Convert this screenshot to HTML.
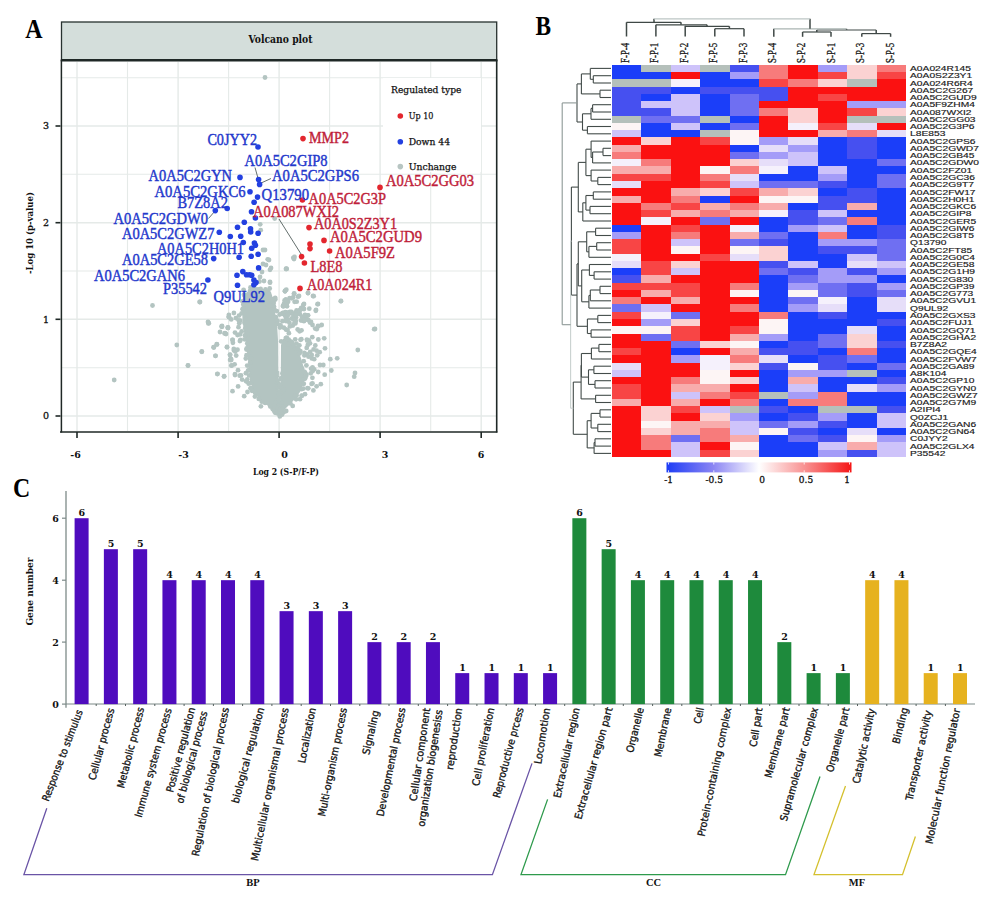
<!DOCTYPE html>
<html><head><meta charset="utf-8"><title>Figure</title>
<style>html,body{margin:0;padding:0;background:#fff;}body{width:1000px;height:900px;overflow:hidden;}svg{display:block;}</style>
</head><body>
<svg width="1000" height="900" viewBox="0 0 1000 900">
<rect width="1000" height="900" fill="#ffffff"/>
<text transform="translate(25.2,37.9) scale(0.87,1)" font-family="'Liberation Serif', serif" font-weight="bold" font-size="27.5">A</text>
<rect x="61.5" y="22" width="435.2" height="38" fill="#d4dedb" stroke="#27312f" stroke-width="1.3"/>
<text x="280.5" y="42.8" font-family="'DejaVu Serif', serif" font-weight="bold" font-size="10.5" text-anchor="middle" textLength="64" lengthAdjust="spacingAndGlyphs" fill="#111">Volcano plot</text>
<rect x="60.5" y="61" width="436.2" height="371" fill="#ffffff"/>
<line x1="77.0" y1="62" x2="77.0" y2="431" stroke="#e5eae8" stroke-width="1.4"/>
<line x1="127.5" y1="62" x2="127.5" y2="431" stroke="#e5eae8" stroke-width="1.1"/>
<line x1="178.1" y1="62" x2="178.1" y2="431" stroke="#e5eae8" stroke-width="1.4"/>
<line x1="228.6" y1="62" x2="228.6" y2="431" stroke="#e5eae8" stroke-width="1.1"/>
<line x1="279.1" y1="62" x2="279.1" y2="431" stroke="#e5eae8" stroke-width="1.4"/>
<line x1="329.6" y1="62" x2="329.6" y2="431" stroke="#e5eae8" stroke-width="1.1"/>
<line x1="380.1" y1="62" x2="380.1" y2="431" stroke="#e5eae8" stroke-width="1.4"/>
<line x1="430.7" y1="62" x2="430.7" y2="431" stroke="#e5eae8" stroke-width="1.1"/>
<line x1="481.2" y1="62" x2="481.2" y2="431" stroke="#e5eae8" stroke-width="1.4"/>
<line x1="61" y1="416.0" x2="496" y2="416.0" stroke="#e5eae8" stroke-width="1.4"/>
<line x1="61" y1="367.7" x2="496" y2="367.7" stroke="#e5eae8" stroke-width="1.1"/>
<line x1="61" y1="319.3" x2="496" y2="319.3" stroke="#e5eae8" stroke-width="1.4"/>
<line x1="61" y1="271.0" x2="496" y2="271.0" stroke="#e5eae8" stroke-width="1.1"/>
<line x1="61" y1="222.7" x2="496" y2="222.7" stroke="#e5eae8" stroke-width="1.4"/>
<line x1="61" y1="174.3" x2="496" y2="174.3" stroke="#e5eae8" stroke-width="1.1"/>
<line x1="61" y1="126.0" x2="496" y2="126.0" stroke="#e5eae8" stroke-width="1.4"/>
<line x1="61" y1="77.7" x2="496" y2="77.7" stroke="#e5eae8" stroke-width="1.1"/>

<g fill="#b3c4c1">
<polygon points="279,415 271,408 261,401 254,392 250,381 249,368 247.5,355 246,345 244,332 242.5,320 242,308 243,298 247,292 255,289 265,289 271,292 273.5,302 275.5,315 277.3,328 278,340 278.3,373 278.8,396"/>
<polygon points="280.6,396 280.8,373 281,345 283,339 289,338 294,341 297,348 301,358 304.5,370 304,383 300,392 294,400 287,407 280,415"/>
<circle cx="279.8" cy="416.4" r="2.4"/>
<circle cx="275.3" cy="412.8" r="2.4"/>
<circle cx="274.4" cy="411.4" r="2.4"/>
<circle cx="272.8" cy="409.3" r="2.4"/>
<circle cx="270.3" cy="406.5" r="2.4"/>
<circle cx="265.1" cy="402.9" r="2.4"/>
<circle cx="260.9" cy="406.3" r="2.4"/>
<circle cx="264.3" cy="401.6" r="2.4"/>
<circle cx="261.8" cy="401.7" r="2.4"/>
<circle cx="258.8" cy="398.9" r="2.4"/>
<circle cx="254.9" cy="396.6" r="2.4"/>
<circle cx="256.7" cy="394.5" r="2.4"/>
<circle cx="252.0" cy="390.8" r="2.4"/>
<circle cx="251.0" cy="388.1" r="2.4"/>
<circle cx="250.8" cy="383.1" r="2.4"/>
<circle cx="247.0" cy="381.6" r="2.4"/>
<circle cx="248.7" cy="383.7" r="2.4"/>
<circle cx="247.3" cy="379.5" r="2.4"/>
<circle cx="249.1" cy="375.4" r="2.4"/>
<circle cx="249.5" cy="369.3" r="2.4"/>
<circle cx="248.0" cy="370.7" r="2.4"/>
<circle cx="247.2" cy="365.6" r="2.4"/>
<circle cx="250.3" cy="362.6" r="2.4"/>
<circle cx="250.7" cy="362.1" r="2.4"/>
<circle cx="251.1" cy="358.4" r="2.4"/>
<circle cx="245.8" cy="358.5" r="2.4"/>
<circle cx="246.5" cy="355.2" r="2.4"/>
<circle cx="249.7" cy="352.3" r="2.4"/>
<circle cx="246.5" cy="349.6" r="2.4"/>
<circle cx="247.3" cy="343.6" r="2.4"/>
<circle cx="247.7" cy="338.9" r="2.4"/>
<circle cx="244.5" cy="339.3" r="2.4"/>
<circle cx="247.8" cy="333.4" r="2.4"/>
<circle cx="244.9" cy="335.3" r="2.4"/>
<circle cx="241.7" cy="331.5" r="2.4"/>
<circle cx="245.3" cy="328.3" r="2.4"/>
<circle cx="239.3" cy="323.2" r="2.4"/>
<circle cx="240.3" cy="320.7" r="2.4"/>
<circle cx="245.9" cy="319.2" r="2.4"/>
<circle cx="244.4" cy="312.5" r="2.4"/>
<circle cx="241.6" cy="313.3" r="2.4"/>
<circle cx="242.6" cy="309.3" r="2.4"/>
<circle cx="242.9" cy="308.6" r="2.4"/>
<circle cx="243.3" cy="304.5" r="2.4"/>
<circle cx="242.4" cy="301.3" r="2.4"/>
<circle cx="244.0" cy="294.7" r="2.4"/>
<circle cx="244.6" cy="295.6" r="2.4"/>
<circle cx="250.5" cy="287.5" r="2.4"/>
<circle cx="250.2" cy="290.6" r="2.4"/>
<circle cx="251.9" cy="291.0" r="2.4"/>
<circle cx="258.0" cy="289.3" r="2.4"/>
<circle cx="260.6" cy="288.8" r="2.4"/>
<circle cx="265.5" cy="289.4" r="2.4"/>
<circle cx="269.7" cy="288.5" r="2.4"/>
<circle cx="268.1" cy="291.7" r="2.4"/>
<circle cx="268.8" cy="294.0" r="2.4"/>
<circle cx="272.6" cy="299.5" r="2.4"/>
<circle cx="275.3" cy="299.5" r="2.4"/>
<circle cx="273.7" cy="302.9" r="2.4"/>
<circle cx="273.9" cy="306.3" r="2.4"/>
<circle cx="274.1" cy="308.6" r="2.4"/>
<circle cx="276.8" cy="311.1" r="2.4"/>
<circle cx="279.7" cy="314.5" r="2.4"/>
<circle cx="275.9" cy="317.1" r="2.4"/>
<circle cx="276.6" cy="320.4" r="2.4"/>
<circle cx="277.6" cy="320.9" r="2.4"/>
<circle cx="277.0" cy="323.8" r="2.4"/>
<circle cx="279.7" cy="325.5" r="2.4"/>
<circle cx="277.3" cy="375.3" r="2.4"/>
<circle cx="276.9" cy="380.8" r="2.4"/>
<circle cx="277.1" cy="382.6" r="2.4"/>
<circle cx="278.4" cy="383.3" r="2.4"/>
<circle cx="280.7" cy="387.9" r="2.4"/>
<circle cx="280.6" cy="392.2" r="2.4"/>
<circle cx="277.9" cy="391.7" r="2.4"/>
<circle cx="279.0" cy="394.9" r="2.4"/>
<circle cx="277.6" cy="397.0" r="2.4"/>
<circle cx="275.7" cy="402.6" r="2.4"/>
<circle cx="279.2" cy="404.9" r="2.4"/>
<circle cx="279.0" cy="407.2" r="2.4"/>
<circle cx="278.1" cy="408.0" r="2.4"/>
<circle cx="277.8" cy="413.5" r="2.4"/>
<circle cx="280.5" cy="412.9" r="2.4"/>
<circle cx="278.5" cy="393.3" r="2.4"/>
<circle cx="282.5" cy="391.8" r="2.4"/>
<circle cx="283.7" cy="389.8" r="2.4"/>
<circle cx="278.0" cy="387.3" r="2.4"/>
<circle cx="279.8" cy="384.7" r="2.4"/>
<circle cx="280.9" cy="379.2" r="2.4"/>
<circle cx="280.8" cy="378.5" r="2.4"/>
<circle cx="278.6" cy="373.5" r="2.4"/>
<circle cx="286.8" cy="337.7" r="2.4"/>
<circle cx="285.8" cy="338.1" r="2.4"/>
<circle cx="288.7" cy="339.7" r="2.4"/>
<circle cx="295.2" cy="339.3" r="2.4"/>
<circle cx="296.5" cy="343.6" r="2.4"/>
<circle cx="299.4" cy="345.3" r="2.4"/>
<circle cx="298.5" cy="349.6" r="2.4"/>
<circle cx="298.1" cy="351.3" r="2.4"/>
<circle cx="300.4" cy="351.1" r="2.4"/>
<circle cx="299.6" cy="353.4" r="2.4"/>
<circle cx="304.4" cy="355.4" r="2.4"/>
<circle cx="303.7" cy="361.2" r="2.4"/>
<circle cx="306.4" cy="365.3" r="2.4"/>
<circle cx="301.9" cy="368.3" r="2.4"/>
<circle cx="305.0" cy="372.3" r="2.4"/>
<circle cx="306.5" cy="374.7" r="2.4"/>
<circle cx="305.8" cy="376.5" r="2.4"/>
<circle cx="303.5" cy="379.4" r="2.4"/>
<circle cx="305.1" cy="378.6" r="2.4"/>
<circle cx="303.8" cy="383.8" r="2.4"/>
<circle cx="301.5" cy="389.2" r="2.4"/>
<circle cx="303.4" cy="388.6" r="2.4"/>
<circle cx="301.7" cy="395.8" r="2.4"/>
<circle cx="296.6" cy="395.5" r="2.4"/>
<circle cx="295.2" cy="395.8" r="2.4"/>
<circle cx="296.1" cy="399.3" r="2.4"/>
<circle cx="292.7" cy="405.9" r="2.4"/>
<circle cx="290.4" cy="403.4" r="2.4"/>
<circle cx="282.7" cy="406.4" r="2.4"/>
<circle cx="286.2" cy="411.0" r="2.4"/>
<circle cx="283.9" cy="412.1" r="2.4"/>
<circle cx="282.1" cy="414.5" r="2.4"/>
<circle cx="280.1" cy="412.8" r="2.4"/>
<circle cx="280.8" cy="412.3" r="2.4"/>
<circle cx="280.2" cy="409.8" r="2.4"/>
<circle cx="279.3" cy="404.5" r="2.4"/>
<circle cx="281.1" cy="402.5" r="2.4"/>
<circle cx="278.7" cy="400.0" r="2.4"/>
<circle cx="279.0" cy="397.7" r="2.4"/>
<circle cx="267.2" cy="300.2" r="2.4"/>
<circle cx="258.1" cy="292.4" r="2.4"/>
<circle cx="253.7" cy="287.4" r="2.4"/>
<circle cx="272.1" cy="301.1" r="2.4"/>
<circle cx="254.5" cy="289.5" r="2.4"/>
<circle cx="254.8" cy="295.4" r="2.4"/>
<circle cx="250.7" cy="295.0" r="2.4"/>
<circle cx="275.2" cy="297.8" r="2.4"/>
<circle cx="255.3" cy="292.6" r="2.4"/>
<circle cx="260.2" cy="296.6" r="2.4"/>
<circle cx="252.0" cy="296.6" r="2.4"/>
<circle cx="248.7" cy="293.8" r="2.4"/>
<circle cx="255.1" cy="289.3" r="2.4"/>
<circle cx="263.6" cy="297.3" r="2.4"/>
<circle cx="268.5" cy="300.8" r="2.4"/>
<circle cx="267.5" cy="306.7" r="2.4"/>
<circle cx="257.7" cy="291.8" r="2.4"/>
<circle cx="267.7" cy="300.4" r="2.4"/>
<circle cx="272.8" cy="299.9" r="2.4"/>
<circle cx="268.0" cy="304.9" r="2.4"/>
<circle cx="250.2" cy="297.1" r="2.4"/>
<circle cx="270.1" cy="305.3" r="2.4"/>
<circle cx="266.5" cy="301.7" r="2.4"/>
<circle cx="250.0" cy="292.7" r="2.4"/>
<circle cx="262.8" cy="299.9" r="2.4"/>
<circle cx="306.9" cy="339.6" r="2.4"/>
<circle cx="301.5" cy="330.3" r="2.4"/>
<circle cx="283.0" cy="313.0" r="2.4"/>
<circle cx="311.8" cy="358.4" r="2.4"/>
<circle cx="301.1" cy="320.5" r="2.4"/>
<circle cx="300.5" cy="339.8" r="2.4"/>
<circle cx="286.2" cy="312.3" r="2.4"/>
<circle cx="282.4" cy="313.2" r="2.4"/>
<circle cx="308.8" cy="340.3" r="2.4"/>
<circle cx="280.6" cy="325.4" r="2.4"/>
<circle cx="288.9" cy="333.2" r="2.4"/>
<circle cx="285.9" cy="329.5" r="2.4"/>
<circle cx="315.2" cy="328.6" r="2.4"/>
<circle cx="280.0" cy="327.5" r="2.4"/>
<circle cx="285.9" cy="318.0" r="2.4"/>
<circle cx="295.9" cy="321.1" r="2.4"/>
<circle cx="295.4" cy="323.4" r="2.4"/>
<circle cx="290.6" cy="313.0" r="2.4"/>
<circle cx="301.9" cy="308.2" r="2.4"/>
<circle cx="307.1" cy="354.5" r="2.4"/>
<circle cx="312.3" cy="337.2" r="2.4"/>
<circle cx="308.1" cy="315.3" r="2.4"/>
<circle cx="303.9" cy="321.2" r="2.4"/>
<circle cx="287.0" cy="306.3" r="2.4"/>
<circle cx="288.1" cy="301.8" r="2.4"/>
<circle cx="294.6" cy="301.8" r="2.4"/>
<circle cx="290.1" cy="312.5" r="2.4"/>
<circle cx="304.4" cy="352.8" r="2.4"/>
<circle cx="297.7" cy="329.5" r="2.4"/>
<circle cx="282.5" cy="313.8" r="2.4"/>
<circle cx="291.5" cy="311.9" r="2.4"/>
<circle cx="281.2" cy="341.4" r="2.4"/>
<circle cx="318.5" cy="326.3" r="2.4"/>
<circle cx="284.5" cy="305.9" r="2.4"/>
<circle cx="307.8" cy="344.9" r="2.4"/>
<circle cx="299.6" cy="331.3" r="2.4"/>
<circle cx="307.7" cy="315.4" r="2.4"/>
<circle cx="285.3" cy="312.1" r="2.4"/>
<circle cx="307.3" cy="340.7" r="2.4"/>
<circle cx="284.6" cy="300.5" r="2.4"/>
<circle cx="296.6" cy="310.3" r="2.4"/>
<circle cx="292.8" cy="325.5" r="2.4"/>
<circle cx="289.9" cy="311.8" r="2.4"/>
<circle cx="293.1" cy="297.4" r="2.4"/>
<circle cx="301.3" cy="339.2" r="2.4"/>
<circle cx="297.9" cy="312.5" r="2.4"/>
<circle cx="289.6" cy="298.2" r="2.4"/>
<circle cx="294.4" cy="322.9" r="2.4"/>
<circle cx="309.3" cy="308.7" r="2.4"/>
<circle cx="301.6" cy="309.1" r="2.4"/>
<circle cx="289.4" cy="344.7" r="2.4"/>
<circle cx="301.2" cy="308.0" r="2.4"/>
<circle cx="289.4" cy="322.7" r="2.4"/>
<circle cx="308.5" cy="356.7" r="2.4"/>
<circle cx="286.1" cy="321.2" r="2.4"/>
<circle cx="285.9" cy="299.3" r="2.4"/>
<circle cx="282.4" cy="321.2" r="2.4"/>
<circle cx="308.5" cy="320.2" r="2.4"/>
<circle cx="296.0" cy="317.2" r="2.4"/>
<circle cx="291.9" cy="318.5" r="2.4"/>
<circle cx="295.2" cy="348.6" r="2.4"/>
<circle cx="288.1" cy="319.3" r="2.4"/>
<circle cx="297.5" cy="348.0" r="2.4"/>
<circle cx="294.4" cy="313.4" r="2.4"/>
<circle cx="291.1" cy="341.9" r="2.4"/>
<circle cx="289.9" cy="326.4" r="2.4"/>
<circle cx="296.5" cy="312.1" r="2.4"/>
<circle cx="315.3" cy="345.5" r="2.4"/>
<circle cx="306.0" cy="317.0" r="2.4"/>
<circle cx="293.6" cy="319.2" r="2.4"/>
<circle cx="288.3" cy="344.2" r="2.4"/>
<circle cx="233.9" cy="313.0" r="2.4"/>
<circle cx="234.0" cy="350.4" r="2.4"/>
<circle cx="235.9" cy="318.1" r="2.4"/>
<circle cx="250.5" cy="388.3" r="2.4"/>
<circle cx="228.9" cy="314.8" r="2.4"/>
<circle cx="247.5" cy="392.0" r="2.4"/>
<circle cx="244.5" cy="322.8" r="2.4"/>
<circle cx="255.1" cy="392.8" r="2.4"/>
<circle cx="246.7" cy="348.4" r="2.4"/>
<circle cx="240.4" cy="339.9" r="2.4"/>
<circle cx="238.1" cy="386.4" r="2.4"/>
<circle cx="231.2" cy="319.4" r="2.4"/>
<circle cx="239.7" cy="375.7" r="2.4"/>
<circle cx="246.1" cy="381.2" r="2.4"/>
<circle cx="242.1" cy="379.6" r="2.4"/>
<circle cx="239.9" cy="341.0" r="2.4"/>
<circle cx="235.3" cy="351.6" r="2.4"/>
<circle cx="238.5" cy="327.2" r="2.4"/>
<circle cx="238.0" cy="370.2" r="2.4"/>
<circle cx="236.2" cy="355.6" r="2.4"/>
<circle cx="245.9" cy="373.2" r="2.4"/>
<circle cx="239.0" cy="315.6" r="2.4"/>
<circle cx="231.0" cy="359.0" r="2.4"/>
<circle cx="235.0" cy="332.6" r="2.4"/>
<circle cx="232.9" cy="342.8" r="2.4"/>
<circle cx="234.6" cy="364.3" r="2.4"/>
<circle cx="311.1" cy="368.7" r="2.4"/>
<circle cx="312.4" cy="377.8" r="2.4"/>
<circle cx="312.7" cy="370.9" r="2.4"/>
<circle cx="316.6" cy="386.3" r="2.4"/>
<circle cx="314.2" cy="369.3" r="2.4"/>
<circle cx="316.6" cy="350.7" r="2.4"/>
<circle cx="310.2" cy="351.8" r="2.4"/>
<circle cx="312.8" cy="368.4" r="2.4"/>
<circle cx="318.2" cy="372.0" r="2.4"/>
<circle cx="313.6" cy="349.4" r="2.4"/>
<circle cx="311.6" cy="383.9" r="2.4"/>
<circle cx="306.7" cy="347.9" r="2.4"/>
<circle cx="304.0" cy="371.7" r="2.4"/>
<circle cx="319.7" cy="352.2" r="2.4"/>
<circle cx="313.4" cy="390.4" r="2.4"/>
<circle cx="307.5" cy="388.2" r="2.4"/>
<circle cx="317.2" cy="355.3" r="2.4"/>
<circle cx="301.8" cy="395.7" r="2.4"/>
<circle cx="152.5" cy="305.5" r="2.4"/>
<circle cx="200.0" cy="302.0" r="2.4"/>
<circle cx="208.8" cy="323.2" r="2.4"/>
<circle cx="176.8" cy="345.0" r="2.4"/>
<circle cx="201.8" cy="351.8" r="2.4"/>
<circle cx="188.0" cy="365.5" r="2.4"/>
<circle cx="114.2" cy="380.0" r="2.4"/>
<circle cx="217.0" cy="344.5" r="2.4"/>
<circle cx="213.8" cy="347.5" r="2.4"/>
<circle cx="215.5" cy="355.8" r="2.4"/>
<circle cx="227.0" cy="347.0" r="2.4"/>
<circle cx="225.0" cy="333.2" r="2.4"/>
<circle cx="222.0" cy="326.8" r="2.4"/>
<circle cx="228.0" cy="327.5" r="2.4"/>
<circle cx="228.8" cy="317.0" r="2.4"/>
<circle cx="232.5" cy="340.0" r="2.4"/>
<circle cx="230.0" cy="355.0" r="2.4"/>
<circle cx="231.2" cy="360.0" r="2.4"/>
<circle cx="231.8" cy="365.5" r="2.4"/>
<circle cx="217.5" cy="373.8" r="2.4"/>
<circle cx="224.2" cy="376.2" r="2.4"/>
<circle cx="235.0" cy="375.0" r="2.4"/>
<circle cx="232.5" cy="391.2" r="2.4"/>
<circle cx="244.2" cy="396.2" r="2.4"/>
<circle cx="199.6" cy="302.0" r="2.4"/>
<circle cx="208.4" cy="323.4" r="2.4"/>
<circle cx="221.6" cy="326.5" r="2.4"/>
<circle cx="227.7" cy="327.7" r="2.4"/>
<circle cx="224.6" cy="333.4" r="2.4"/>
<circle cx="228.9" cy="316.7" r="2.4"/>
<circle cx="232.6" cy="339.9" r="2.4"/>
<circle cx="216.7" cy="344.2" r="2.4"/>
<circle cx="213.6" cy="347.2" r="2.4"/>
<circle cx="227.0" cy="347.2" r="2.4"/>
<circle cx="233.8" cy="349.0" r="2.4"/>
<circle cx="237.5" cy="349.7" r="2.4"/>
<circle cx="201.8" cy="351.5" r="2.4"/>
<circle cx="215.5" cy="355.8" r="2.4"/>
<circle cx="230.1" cy="354.6" r="2.4"/>
<circle cx="230.1" cy="360.0" r="2.4"/>
<circle cx="231.3" cy="365.6" r="2.4"/>
<circle cx="188.0" cy="365.6" r="2.4"/>
<circle cx="217.3" cy="374.1" r="2.4"/>
<circle cx="224.0" cy="376.6" r="2.4"/>
<circle cx="235.0" cy="374.1" r="2.4"/>
<circle cx="241.0" cy="375.4" r="2.4"/>
<circle cx="237.5" cy="335.0" r="2.4"/>
<circle cx="240.0" cy="334.4" r="2.4"/>
<circle cx="243.6" cy="289.8" r="2.4"/>
<circle cx="238.7" cy="320.3" r="2.4"/>
<circle cx="285.1" cy="291.0" r="2.4"/>
<circle cx="283.3" cy="306.3" r="2.4"/>
<circle cx="286.4" cy="304.4" r="2.4"/>
<circle cx="285.1" cy="315.5" r="2.4"/>
<circle cx="287.6" cy="313.0" r="2.4"/>
<circle cx="283.9" cy="327.7" r="2.4"/>
<circle cx="287.6" cy="330.1" r="2.4"/>
<circle cx="285.0" cy="291.3" r="2.4"/>
<circle cx="340.8" cy="301.2" r="2.4"/>
<circle cx="374.2" cy="329.2" r="2.4"/>
<circle cx="357.8" cy="350.0" r="2.4"/>
<circle cx="337.2" cy="358.3" r="2.4"/>
<circle cx="330.3" cy="359.2" r="2.4"/>
<circle cx="331.3" cy="370.5" r="2.4"/>
<circle cx="355.0" cy="373.0" r="2.4"/>
<circle cx="354.2" cy="376.7" r="2.4"/>
<circle cx="346.7" cy="385.0" r="2.4"/>
<circle cx="320.8" cy="384.2" r="2.4"/>
<circle cx="324.7" cy="374.7" r="2.4"/>
<circle cx="325.0" cy="348.3" r="2.4"/>
<circle cx="324.2" cy="338.3" r="2.4"/>
<circle cx="318.3" cy="339.5" r="2.4"/>
<circle cx="321.7" cy="325.0" r="2.4"/>
<circle cx="317.5" cy="304.2" r="2.4"/>
<circle cx="315.8" cy="310.8" r="2.4"/>
<circle cx="313.7" cy="296.2" r="2.4"/>
<circle cx="308.0" cy="293.0" r="2.4"/>
<circle cx="303.3" cy="305.0" r="2.4"/>
<circle cx="294.2" cy="293.3" r="2.4"/>
<circle cx="291.7" cy="298.3" r="2.4"/>
<circle cx="296.7" cy="301.7" r="2.4"/>
<circle cx="283.3" cy="305.8" r="2.4"/>
<circle cx="286.7" cy="305.0" r="2.4"/>
<circle cx="285.8" cy="315.8" r="2.4"/>
<circle cx="293.3" cy="315.0" r="2.4"/>
<circle cx="300.0" cy="314.2" r="2.4"/>
<circle cx="305.0" cy="315.0" r="2.4"/>
<circle cx="310.0" cy="322.5" r="2.4"/>
<circle cx="312.5" cy="325.0" r="2.4"/>
<circle cx="316.7" cy="329.2" r="2.4"/>
<circle cx="310.0" cy="343.3" r="2.4"/>
<circle cx="311.7" cy="355.0" r="2.4"/>
<circle cx="314.2" cy="359.2" r="2.4"/>
<circle cx="320.0" cy="365.0" r="2.4"/>
<circle cx="323.3" cy="365.0" r="2.4"/>
<circle cx="312.5" cy="367.5" r="2.4"/>
<circle cx="310.8" cy="373.3" r="2.4"/>
<circle cx="312.5" cy="383.3" r="2.4"/>
<circle cx="308.3" cy="388.3" r="2.4"/>
<circle cx="305.0" cy="394.2" r="2.4"/>
<circle cx="300.0" cy="399.2" r="2.4"/>
<circle cx="265.0" cy="77.5" r="2.4"/>
<circle cx="293.3" cy="257.8" r="2.4"/>
<circle cx="286.7" cy="268.9" r="2.4"/>
<circle cx="274.7" cy="218.5" r="2.4"/>
<circle cx="260.2" cy="224.3" r="2.4"/>
<circle cx="260.7" cy="230.2" r="2.4"/>
<circle cx="263.0" cy="250.0" r="2.4"/>
<circle cx="267.7" cy="259.3" r="2.4"/>
<circle cx="263.0" cy="264.0" r="2.4"/>
<circle cx="270.0" cy="269.8" r="2.4"/>
<circle cx="286.3" cy="268.7" r="2.4"/>
<circle cx="294.5" cy="257.0" r="2.4"/>
<circle cx="259.5" cy="281.5" r="2.4"/>
<circle cx="270.0" cy="282.7" r="2.4"/>
<circle cx="260.7" cy="292.0" r="2.4"/>
<circle cx="270.0" cy="296.7" r="2.4"/>
<circle cx="286.3" cy="289.7" r="2.4"/>
<circle cx="298.0" cy="296.7" r="2.4"/>
<circle cx="284.0" cy="303.7" r="2.4"/>
<circle cx="265.0" cy="250.0" r="2.4"/>
<circle cx="269.0" cy="260.0" r="2.4"/>
<circle cx="266.0" cy="265.0" r="2.4"/>
<circle cx="262.0" cy="272.0" r="2.4"/>
<circle cx="271.0" cy="268.0" r="2.4"/>
<circle cx="260.0" cy="277.0" r="2.4"/>
<circle cx="264.0" cy="281.0" r="2.4"/>
<circle cx="270.0" cy="282.0" r="2.4"/>
<circle cx="294.0" cy="259.0" r="2.4"/>
<circle cx="286.0" cy="269.0" r="2.4"/>
<circle cx="285.0" cy="291.0" r="2.4"/>
<circle cx="294.0" cy="294.0" r="2.4"/>
<circle cx="299.0" cy="296.0" r="2.4"/>
<circle cx="308.0" cy="293.0" r="2.4"/>
<circle cx="313.0" cy="296.0" r="2.4"/>
<circle cx="318.0" cy="304.0" r="2.4"/>
<circle cx="316.0" cy="310.0" r="2.4"/>
<circle cx="304.0" cy="304.0" r="2.4"/>
<circle cx="341.0" cy="301.0" r="2.4"/>
<circle cx="304.0" cy="309.0" r="2.4"/>
<circle cx="300.0" cy="310.0" r="2.4"/>
<circle cx="283.0" cy="306.0" r="2.4"/>
<circle cx="288.0" cy="315.0" r="2.4"/>
<circle cx="296.0" cy="315.0" r="2.4"/>
<circle cx="302.0" cy="317.0" r="2.4"/>
<circle cx="305.0" cy="320.0" r="2.4"/>
<circle cx="311.0" cy="322.0" r="2.4"/>
<circle cx="318.0" cy="326.0" r="2.4"/>
<circle cx="208.0" cy="322.0" r="2.4"/>
<circle cx="222.0" cy="326.0" r="2.4"/>
<circle cx="228.0" cy="328.0" r="2.4"/>
<circle cx="220.0" cy="332.0" r="2.4"/>
<circle cx="226.0" cy="334.0" r="2.4"/>
<circle cx="229.0" cy="317.0" r="2.4"/>
<circle cx="375.0" cy="329.0" r="2.4"/>
</g>
<polyline points="279.4,343 279.7,348 279.2,353 279.6,358 279.2,364 279.5,370 279.4,376" fill="none" stroke="#ffffff" stroke-width="0.65"/>
<g stroke="#3c4a48" stroke-width="0.8">
<line x1="208.5" y1="218.5" x2="215" y2="211"/>
<line x1="255" y1="167.5" x2="258.5" y2="180"/>
<line x1="271" y1="178.5" x2="260" y2="183.5"/>
<line x1="279" y1="219" x2="301" y2="254"/>
</g>
<g fill="#2340e0"><circle cx="258" cy="147" r="2.8"/><circle cx="240" cy="177.4" r="2.8"/><circle cx="258.6" cy="179.6" r="2.8"/><circle cx="259.6" cy="184.4" r="2.8"/><circle cx="250" cy="191.7" r="2.8"/><circle cx="257.5" cy="197.1" r="2.8"/><circle cx="254.1" cy="202.2" r="2.8"/><circle cx="227.2" cy="208.5" r="2.8"/><circle cx="215.3" cy="210.6" r="2.8"/><circle cx="251.5" cy="211.7" r="2.8"/><circle cx="255.4" cy="218" r="2.8"/><circle cx="244.3" cy="222.2" r="2.8"/><circle cx="237.5" cy="227.2" r="2.8"/><circle cx="250.5" cy="228.8" r="2.8"/><circle cx="250.7" cy="232" r="2.8"/><circle cx="258.1" cy="233.2" r="2.8"/><circle cx="219.3" cy="232.2" r="2.8"/><circle cx="230.3" cy="236.5" r="2.8"/><circle cx="240.7" cy="236.2" r="2.8"/><circle cx="243.3" cy="242.5" r="2.8"/><circle cx="254.4" cy="243" r="2.8"/><circle cx="255.4" cy="245.2" r="2.8"/><circle cx="251.7" cy="248.3" r="2.8"/><circle cx="213.7" cy="258.6" r="2.8"/><circle cx="239.1" cy="257.3" r="2.8"/><circle cx="251.2" cy="256.2" r="2.8"/><circle cx="258.1" cy="254.3" r="2.8"/><circle cx="258.6" cy="267.9" r="2.8"/><circle cx="237" cy="275.3" r="2.8"/><circle cx="242.8" cy="271.6" r="2.8"/><circle cx="246.5" cy="274.7" r="2.8"/><circle cx="249.6" cy="274.7" r="2.8"/><circle cx="251.7" cy="275.3" r="2.8"/><circle cx="253.9" cy="280" r="2.8"/><circle cx="237.5" cy="285.3" r="2.8"/><circle cx="253.9" cy="284.8" r="2.8"/><circle cx="256" cy="282.6" r="2.8"/><circle cx="207.9" cy="280" r="2.8"/></g>
<g fill="#e3262e"><circle cx="303" cy="138.6" r="2.8"/><circle cx="302.4" cy="200" r="2.8"/><circle cx="380" cy="187.4" r="2.8"/><circle cx="309" cy="227.6" r="2.8"/><circle cx="324" cy="240.4" r="2.8"/><circle cx="310" cy="244" r="2.8"/><circle cx="310" cy="248.6" r="2.8"/><circle cx="329.6" cy="251" r="2.8"/><circle cx="301.6" cy="256.6" r="2.8"/><circle cx="304.4" cy="263" r="2.8"/><circle cx="300" cy="288.4" r="2.8"/></g>
<text x="207.4" y="145.2" font-family="'Liberation Serif', serif" font-size="17" textLength="49.6" lengthAdjust="spacingAndGlyphs" fill="#2338cc" stroke="#2338cc" stroke-width="0.45">C0JYY2</text>
<text x="244.4" y="166.4" font-family="'Liberation Serif', serif" font-size="17" textLength="83.2" lengthAdjust="spacingAndGlyphs" fill="#2338cc" stroke="#2338cc" stroke-width="0.45">A0A5C2GIP8</text>
<text x="148.6" y="181" font-family="'Liberation Serif', serif" font-size="17" textLength="83.4" lengthAdjust="spacingAndGlyphs" fill="#2338cc" stroke="#2338cc" stroke-width="0.45">A0A5C2GYN</text>
<text x="272" y="181" font-family="'Liberation Serif', serif" font-size="17" textLength="87.0" lengthAdjust="spacingAndGlyphs" fill="#2338cc" stroke="#2338cc" stroke-width="0.45">A0A5C2GPS6</text>
<text x="154.4" y="197" font-family="'Liberation Serif', serif" font-size="17" textLength="91.2" lengthAdjust="spacingAndGlyphs" fill="#2338cc" stroke="#2338cc" stroke-width="0.45">A0A5C2GKC6</text>
<text x="261.6" y="199.6" font-family="'Liberation Serif', serif" font-size="17" textLength="47.4" lengthAdjust="spacingAndGlyphs" fill="#2338cc" stroke="#2338cc" stroke-width="0.45">Q13790</text>
<text x="177.4" y="208.4" font-family="'Liberation Serif', serif" font-size="17" textLength="50.6" lengthAdjust="spacingAndGlyphs" fill="#2338cc" stroke="#2338cc" stroke-width="0.45">B7Z8A2</text>
<text x="113.5" y="224" font-family="'Liberation Serif', serif" font-size="17" textLength="94.5" lengthAdjust="spacingAndGlyphs" fill="#2338cc" stroke="#2338cc" stroke-width="0.45">A0A5C2GDW0</text>
<text x="122" y="239" font-family="'Liberation Serif', serif" font-size="17" textLength="92.4" lengthAdjust="spacingAndGlyphs" fill="#2338cc" stroke="#2338cc" stroke-width="0.45">A0A5C2GWZ7</text>
<text x="157" y="253.6" font-family="'Liberation Serif', serif" font-size="17" textLength="87.0" lengthAdjust="spacingAndGlyphs" fill="#2338cc" stroke="#2338cc" stroke-width="0.45">A0A5C2H0H1</text>
<text x="122" y="265.4" font-family="'Liberation Serif', serif" font-size="17" textLength="86.0" lengthAdjust="spacingAndGlyphs" fill="#2338cc" stroke="#2338cc" stroke-width="0.45">A0A5C2GE58</text>
<text x="94" y="281" font-family="'Liberation Serif', serif" font-size="17" textLength="91.0" lengthAdjust="spacingAndGlyphs" fill="#2338cc" stroke="#2338cc" stroke-width="0.45">A0A5C2GAN6</text>
<text x="163" y="294" font-family="'Liberation Serif', serif" font-size="17" textLength="44.0" lengthAdjust="spacingAndGlyphs" fill="#2338cc" stroke="#2338cc" stroke-width="0.45">P35542</text>
<text x="213.6" y="302" font-family="'Liberation Serif', serif" font-size="17" textLength="51.4" lengthAdjust="spacingAndGlyphs" fill="#2338cc" stroke="#2338cc" stroke-width="0.45">Q9UL92</text>
<text x="309" y="143.4" font-family="'Liberation Serif', serif" font-size="17" textLength="40.0" lengthAdjust="spacingAndGlyphs" fill="#bf1e3a" stroke="#bf1e3a" stroke-width="0.45">MMP2</text>
<text x="386" y="186" font-family="'Liberation Serif', serif" font-size="17" textLength="88.0" lengthAdjust="spacingAndGlyphs" fill="#bf1e3a" stroke="#bf1e3a" stroke-width="0.45">A0A5C2GG03</text>
<text x="308.6" y="204" font-family="'Liberation Serif', serif" font-size="17" textLength="77.4" lengthAdjust="spacingAndGlyphs" fill="#bf1e3a" stroke="#bf1e3a" stroke-width="0.45">A0A5C2G3P</text>
<text x="253" y="216.6" font-family="'Liberation Serif', serif" font-size="17" textLength="86.0" lengthAdjust="spacingAndGlyphs" fill="#bf1e3a" stroke="#bf1e3a" stroke-width="0.45">A0A087WXI2</text>
<text x="314" y="229" font-family="'Liberation Serif', serif" font-size="17" textLength="83.0" lengthAdjust="spacingAndGlyphs" fill="#bf1e3a" stroke="#bf1e3a" stroke-width="0.45">A0A0S2Z3Y1</text>
<text x="330" y="242" font-family="'Liberation Serif', serif" font-size="17" textLength="92.0" lengthAdjust="spacingAndGlyphs" fill="#bf1e3a" stroke="#bf1e3a" stroke-width="0.45">A0A5C2GUD9</text>
<text x="335" y="258" font-family="'Liberation Serif', serif" font-size="17" textLength="60.0" lengthAdjust="spacingAndGlyphs" fill="#bf1e3a" stroke="#bf1e3a" stroke-width="0.45">A0A5F9Z</text>
<text x="310.4" y="272" font-family="'Liberation Serif', serif" font-size="17" textLength="32.0" lengthAdjust="spacingAndGlyphs" fill="#bf1e3a" stroke="#bf1e3a" stroke-width="0.45">L8E8</text>
<text x="307" y="290" font-family="'Liberation Serif', serif" font-size="17" textLength="65.4" lengthAdjust="spacingAndGlyphs" fill="#bf1e3a" stroke="#bf1e3a" stroke-width="0.45">A0A024R1</text>
<line x1="61.4" y1="60" x2="61.4" y2="432.6" stroke="#1f2826" stroke-width="1.5"/>
<line x1="60" y1="432" x2="497.4" y2="432" stroke="#1f2826" stroke-width="1.6"/>
<line x1="496.7" y1="60" x2="496.7" y2="432.6" stroke="#1f2826" stroke-width="1.6"/>
<line x1="60.8" y1="60.2" x2="497.4" y2="60.2" stroke="#1f2826" stroke-width="2.5"/>
<line x1="55.5" y1="416.0" x2="60.5" y2="416.0" stroke="#1f2826" stroke-width="1.6"/>
<text x="46" y="419.4" font-family="'DejaVu Serif', serif" font-size="9.5" text-anchor="middle" fill="#111" stroke="#111" stroke-width="0.3">0</text>
<line x1="55.5" y1="319.3" x2="60.5" y2="319.3" stroke="#1f2826" stroke-width="1.6"/>
<text x="46" y="322.7" font-family="'DejaVu Serif', serif" font-size="9.5" text-anchor="middle" fill="#111" stroke="#111" stroke-width="0.3">1</text>
<line x1="55.5" y1="222.7" x2="60.5" y2="222.7" stroke="#1f2826" stroke-width="1.6"/>
<text x="46" y="226.1" font-family="'DejaVu Serif', serif" font-size="9.5" text-anchor="middle" fill="#111" stroke="#111" stroke-width="0.3">2</text>
<line x1="55.5" y1="126.0" x2="60.5" y2="126.0" stroke="#1f2826" stroke-width="1.6"/>
<text x="46" y="129.4" font-family="'DejaVu Serif', serif" font-size="9.5" text-anchor="middle" fill="#111" stroke="#111" stroke-width="0.3">3</text>
<line x1="77.0" y1="432" x2="77.0" y2="438" stroke="#1f2826" stroke-width="1.6"/>
<text x="75.5" y="457.5" font-family="'DejaVu Serif', serif" font-size="9.5" font-weight="bold" text-anchor="middle" fill="#111">-6</text>
<line x1="178.1" y1="432" x2="178.1" y2="438" stroke="#1f2826" stroke-width="1.6"/>
<text x="183.5" y="457.5" font-family="'DejaVu Serif', serif" font-size="9.5" font-weight="bold" text-anchor="middle" fill="#111">-3</text>
<line x1="279.1" y1="432" x2="279.1" y2="438" stroke="#1f2826" stroke-width="1.6"/>
<text x="284.5" y="457.5" font-family="'DejaVu Serif', serif" font-size="9.5" font-weight="bold" text-anchor="middle" fill="#111">0</text>
<line x1="380.1" y1="432" x2="380.1" y2="438" stroke="#1f2826" stroke-width="1.6"/>
<text x="385" y="457.5" font-family="'DejaVu Serif', serif" font-size="9.5" font-weight="bold" text-anchor="middle" fill="#111">3</text>
<line x1="481.2" y1="432" x2="481.2" y2="438" stroke="#1f2826" stroke-width="1.6"/>
<text x="481" y="457.5" font-family="'DejaVu Serif', serif" font-size="9.5" font-weight="bold" text-anchor="middle" fill="#111">6</text>
<text x="286" y="475.2" font-family="'DejaVu Serif', serif" font-weight="bold" font-size="10" text-anchor="middle" textLength="66" lengthAdjust="spacingAndGlyphs" fill="#111">Log 2 (S-P/F-P)</text>
<text transform="translate(32.8,233) rotate(-90)" font-family="'DejaVu Serif', serif" font-weight="bold" font-size="10" text-anchor="middle" textLength="82" lengthAdjust="spacingAndGlyphs" fill="#111">-Log 10 (p-value)</text>
<rect x="383" y="78" width="98" height="94" fill="#ffffff"/>
<text x="391" y="92.5" font-family="'DejaVu Serif', serif" font-size="9" textLength="70.5" lengthAdjust="spacingAndGlyphs" fill="#111" stroke="#111" stroke-width="0.25">Regulated type</text>
<circle cx="400.3" cy="116" r="2.8" fill="#e3262e"/>
<text x="408.7" y="119.3" font-family="'DejaVu Serif', serif" font-size="9" textLength="24.7" lengthAdjust="spacingAndGlyphs" fill="#111" stroke="#111" stroke-width="0.25">Up 10</text>
<circle cx="400.3" cy="141.7" r="2.8" fill="#2340e0"/>
<text x="408.7" y="145.0" font-family="'DejaVu Serif', serif" font-size="9" textLength="41.3" lengthAdjust="spacingAndGlyphs" fill="#111" stroke="#111" stroke-width="0.25">Down 44</text>
<circle cx="400.3" cy="166.6" r="2.8" fill="#b7c5c2"/>
<text x="408.7" y="169.9" font-family="'DejaVu Serif', serif" font-size="9" textLength="47.8" lengthAdjust="spacingAndGlyphs" fill="#111" stroke="#111" stroke-width="0.25">Unchange</text>
<text transform="translate(535.6,34.5) scale(0.88,1)" font-family="'Liberation Serif', serif" font-weight="bold" font-size="26.5">B</text>
<g shape-rendering="crispEdges">
<rect x="612.00" y="64.80" width="29.70" height="7.56" fill="#1b3ef9"/>
<rect x="641.40" y="64.80" width="29.70" height="7.56" fill="#b5c0bb"/>
<rect x="670.80" y="64.80" width="29.70" height="7.56" fill="#cec3fa"/>
<rect x="700.20" y="64.80" width="29.70" height="7.56" fill="#b5c0bb"/>
<rect x="729.60" y="64.80" width="29.70" height="7.56" fill="#4650f0"/>
<rect x="759.00" y="64.80" width="29.70" height="7.56" fill="#f77b7b"/>
<rect x="788.40" y="64.80" width="29.70" height="7.56" fill="#fb1111"/>
<rect x="817.80" y="64.80" width="29.70" height="7.56" fill="#a49cf8"/>
<rect x="847.20" y="64.80" width="29.70" height="7.56" fill="#fbd2d2"/>
<rect x="876.60" y="64.80" width="29.70" height="7.56" fill="#f77b7b"/>
<rect x="612.00" y="72.06" width="29.70" height="7.56" fill="#1b3ef9"/>
<rect x="641.40" y="72.06" width="29.70" height="7.56" fill="#1b3ef9"/>
<rect x="670.80" y="72.06" width="29.70" height="7.56" fill="#fb1111"/>
<rect x="700.20" y="72.06" width="29.70" height="7.56" fill="#1b3ef9"/>
<rect x="729.60" y="72.06" width="29.70" height="7.56" fill="#a49cf8"/>
<rect x="759.00" y="72.06" width="29.70" height="7.56" fill="#f77b7b"/>
<rect x="788.40" y="72.06" width="29.70" height="7.56" fill="#fb1111"/>
<rect x="817.80" y="72.06" width="29.70" height="7.56" fill="#f84545"/>
<rect x="847.20" y="72.06" width="29.70" height="7.56" fill="#fbd2d2"/>
<rect x="876.60" y="72.06" width="29.70" height="7.56" fill="#f84545"/>
<rect x="612.00" y="79.33" width="29.70" height="7.56" fill="#b5c0bb"/>
<rect x="641.40" y="79.33" width="29.70" height="7.56" fill="#b5c0bb"/>
<rect x="670.80" y="79.33" width="29.70" height="7.56" fill="#f5f1fc"/>
<rect x="700.20" y="79.33" width="29.70" height="7.56" fill="#1b3ef9"/>
<rect x="729.60" y="79.33" width="29.70" height="7.56" fill="#1b3ef9"/>
<rect x="759.00" y="79.33" width="29.70" height="7.56" fill="#f84545"/>
<rect x="788.40" y="79.33" width="29.70" height="7.56" fill="#f77b7b"/>
<rect x="817.80" y="79.33" width="29.70" height="7.56" fill="#fbd2d2"/>
<rect x="847.20" y="79.33" width="29.70" height="7.56" fill="#b5c0bb"/>
<rect x="876.60" y="79.33" width="29.70" height="7.56" fill="#fb1111"/>
<rect x="612.00" y="86.59" width="29.70" height="7.56" fill="#4650f0"/>
<rect x="641.40" y="86.59" width="29.70" height="7.56" fill="#4650f0"/>
<rect x="670.80" y="86.59" width="29.70" height="7.56" fill="#1b3ef9"/>
<rect x="700.20" y="86.59" width="29.70" height="7.56" fill="#4650f0"/>
<rect x="729.60" y="86.59" width="29.70" height="7.56" fill="#4650f0"/>
<rect x="759.00" y="86.59" width="29.70" height="7.56" fill="#4650f0"/>
<rect x="788.40" y="86.59" width="29.70" height="7.56" fill="#fb1111"/>
<rect x="817.80" y="86.59" width="29.70" height="7.56" fill="#fb1111"/>
<rect x="847.20" y="86.59" width="29.70" height="7.56" fill="#fb1111"/>
<rect x="876.60" y="86.59" width="29.70" height="7.56" fill="#fb1111"/>
<rect x="612.00" y="93.85" width="29.70" height="7.56" fill="#4650f0"/>
<rect x="641.40" y="93.85" width="29.70" height="7.56" fill="#1b3ef9"/>
<rect x="670.80" y="93.85" width="29.70" height="7.56" fill="#cec3fa"/>
<rect x="700.20" y="93.85" width="29.70" height="7.56" fill="#1b3ef9"/>
<rect x="729.60" y="93.85" width="29.70" height="7.56" fill="#6f6ff2"/>
<rect x="759.00" y="93.85" width="29.70" height="7.56" fill="#4650f0"/>
<rect x="788.40" y="93.85" width="29.70" height="7.56" fill="#fb1111"/>
<rect x="817.80" y="93.85" width="29.70" height="7.56" fill="#f84545"/>
<rect x="847.20" y="93.85" width="29.70" height="7.56" fill="#fb1111"/>
<rect x="876.60" y="93.85" width="29.70" height="7.56" fill="#fb1111"/>
<rect x="612.00" y="101.11" width="29.70" height="7.56" fill="#4650f0"/>
<rect x="641.40" y="101.11" width="29.70" height="7.56" fill="#cec3fa"/>
<rect x="670.80" y="101.11" width="29.70" height="7.56" fill="#cec3fa"/>
<rect x="700.20" y="101.11" width="29.70" height="7.56" fill="#1b3ef9"/>
<rect x="729.60" y="101.11" width="29.70" height="7.56" fill="#6f6ff2"/>
<rect x="759.00" y="101.11" width="29.70" height="7.56" fill="#fb1111"/>
<rect x="788.40" y="101.11" width="29.70" height="7.56" fill="#fb1111"/>
<rect x="817.80" y="101.11" width="29.70" height="7.56" fill="#fb1111"/>
<rect x="847.20" y="101.11" width="29.70" height="7.56" fill="#a49cf8"/>
<rect x="876.60" y="101.11" width="29.70" height="7.56" fill="#a49cf8"/>
<rect x="612.00" y="108.38" width="29.70" height="7.56" fill="#4650f0"/>
<rect x="641.40" y="108.38" width="29.70" height="7.56" fill="#4650f0"/>
<rect x="670.80" y="108.38" width="29.70" height="7.56" fill="#cec3fa"/>
<rect x="700.20" y="108.38" width="29.70" height="7.56" fill="#1b3ef9"/>
<rect x="729.60" y="108.38" width="29.70" height="7.56" fill="#6f6ff2"/>
<rect x="759.00" y="108.38" width="29.70" height="7.56" fill="#f77b7b"/>
<rect x="788.40" y="108.38" width="29.70" height="7.56" fill="#fbd2d2"/>
<rect x="817.80" y="108.38" width="29.70" height="7.56" fill="#fb1111"/>
<rect x="847.20" y="108.38" width="29.70" height="7.56" fill="#f84545"/>
<rect x="876.60" y="108.38" width="29.70" height="7.56" fill="#fbd2d2"/>
<rect x="612.00" y="115.64" width="29.70" height="7.56" fill="#b5c0bb"/>
<rect x="641.40" y="115.64" width="29.70" height="7.56" fill="#6f6ff2"/>
<rect x="670.80" y="115.64" width="29.70" height="7.56" fill="#6f6ff2"/>
<rect x="700.20" y="115.64" width="29.70" height="7.56" fill="#b5c0bb"/>
<rect x="729.60" y="115.64" width="29.70" height="7.56" fill="#1b3ef9"/>
<rect x="759.00" y="115.64" width="29.70" height="7.56" fill="#fb1111"/>
<rect x="788.40" y="115.64" width="29.70" height="7.56" fill="#fbd2d2"/>
<rect x="817.80" y="115.64" width="29.70" height="7.56" fill="#fb1111"/>
<rect x="847.20" y="115.64" width="29.70" height="7.56" fill="#b5c0bb"/>
<rect x="876.60" y="115.64" width="29.70" height="7.56" fill="#b5c0bb"/>
<rect x="612.00" y="122.90" width="29.70" height="7.56" fill="#fdf5f5"/>
<rect x="641.40" y="122.90" width="29.70" height="7.56" fill="#1b3ef9"/>
<rect x="670.80" y="122.90" width="29.70" height="7.56" fill="#cec3fa"/>
<rect x="700.20" y="122.90" width="29.70" height="7.56" fill="#1b3ef9"/>
<rect x="729.60" y="122.90" width="29.70" height="7.56" fill="#6f6ff2"/>
<rect x="759.00" y="122.90" width="29.70" height="7.56" fill="#fb1111"/>
<rect x="788.40" y="122.90" width="29.70" height="7.56" fill="#f5f1fc"/>
<rect x="817.80" y="122.90" width="29.70" height="7.56" fill="#f84545"/>
<rect x="847.20" y="122.90" width="29.70" height="7.56" fill="#e6def9"/>
<rect x="876.60" y="122.90" width="29.70" height="7.56" fill="#fb1111"/>
<rect x="612.00" y="130.17" width="29.70" height="7.56" fill="#cec3fa"/>
<rect x="641.40" y="130.17" width="29.70" height="7.56" fill="#1b3ef9"/>
<rect x="670.80" y="130.17" width="29.70" height="7.56" fill="#1b3ef9"/>
<rect x="700.20" y="130.17" width="29.70" height="7.56" fill="#b5c0bb"/>
<rect x="729.60" y="130.17" width="29.70" height="7.56" fill="#fdf5f5"/>
<rect x="759.00" y="130.17" width="29.70" height="7.56" fill="#fb1111"/>
<rect x="788.40" y="130.17" width="29.70" height="7.56" fill="#fb1111"/>
<rect x="817.80" y="130.17" width="29.70" height="7.56" fill="#f8acac"/>
<rect x="847.20" y="130.17" width="29.70" height="7.56" fill="#f77b7b"/>
<rect x="876.60" y="130.17" width="29.70" height="7.56" fill="#e6def9"/>
<rect x="612.00" y="137.43" width="29.70" height="7.56" fill="#fb1111"/>
<rect x="641.40" y="137.43" width="29.70" height="7.56" fill="#fbd2d2"/>
<rect x="670.80" y="137.43" width="29.70" height="7.56" fill="#fb1111"/>
<rect x="700.20" y="137.43" width="29.70" height="7.56" fill="#f84545"/>
<rect x="729.60" y="137.43" width="29.70" height="7.56" fill="#fdf5f5"/>
<rect x="759.00" y="137.43" width="29.70" height="7.56" fill="#a49cf8"/>
<rect x="788.40" y="137.43" width="29.70" height="7.56" fill="#e6def9"/>
<rect x="817.80" y="137.43" width="29.70" height="7.56" fill="#1b3ef9"/>
<rect x="847.20" y="137.43" width="29.70" height="7.56" fill="#4650f0"/>
<rect x="876.60" y="137.43" width="29.70" height="7.56" fill="#1b3ef9"/>
<rect x="612.00" y="144.69" width="29.70" height="7.56" fill="#f8acac"/>
<rect x="641.40" y="144.69" width="29.70" height="7.56" fill="#fb1111"/>
<rect x="670.80" y="144.69" width="29.70" height="7.56" fill="#fb1111"/>
<rect x="700.20" y="144.69" width="29.70" height="7.56" fill="#fb1111"/>
<rect x="729.60" y="144.69" width="29.70" height="7.56" fill="#1b3ef9"/>
<rect x="759.00" y="144.69" width="29.70" height="7.56" fill="#e6def9"/>
<rect x="788.40" y="144.69" width="29.70" height="7.56" fill="#a49cf8"/>
<rect x="817.80" y="144.69" width="29.70" height="7.56" fill="#1b3ef9"/>
<rect x="847.20" y="144.69" width="29.70" height="7.56" fill="#4650f0"/>
<rect x="876.60" y="144.69" width="29.70" height="7.56" fill="#1b3ef9"/>
<rect x="612.00" y="151.96" width="29.70" height="7.56" fill="#f77b7b"/>
<rect x="641.40" y="151.96" width="29.70" height="7.56" fill="#fb1111"/>
<rect x="670.80" y="151.96" width="29.70" height="7.56" fill="#fb1111"/>
<rect x="700.20" y="151.96" width="29.70" height="7.56" fill="#fb1111"/>
<rect x="729.60" y="151.96" width="29.70" height="7.56" fill="#6f6ff2"/>
<rect x="759.00" y="151.96" width="29.70" height="7.56" fill="#a49cf8"/>
<rect x="788.40" y="151.96" width="29.70" height="7.56" fill="#cec3fa"/>
<rect x="817.80" y="151.96" width="29.70" height="7.56" fill="#1b3ef9"/>
<rect x="847.20" y="151.96" width="29.70" height="7.56" fill="#4650f0"/>
<rect x="876.60" y="151.96" width="29.70" height="7.56" fill="#1b3ef9"/>
<rect x="612.00" y="159.22" width="29.70" height="7.56" fill="#f5f1fc"/>
<rect x="641.40" y="159.22" width="29.70" height="7.56" fill="#f77b7b"/>
<rect x="670.80" y="159.22" width="29.70" height="7.56" fill="#fb1111"/>
<rect x="700.20" y="159.22" width="29.70" height="7.56" fill="#fb1111"/>
<rect x="729.60" y="159.22" width="29.70" height="7.56" fill="#fbd2d2"/>
<rect x="759.00" y="159.22" width="29.70" height="7.56" fill="#e6def9"/>
<rect x="788.40" y="159.22" width="29.70" height="7.56" fill="#cec3fa"/>
<rect x="817.80" y="159.22" width="29.70" height="7.56" fill="#1b3ef9"/>
<rect x="847.20" y="159.22" width="29.70" height="7.56" fill="#1b3ef9"/>
<rect x="876.60" y="159.22" width="29.70" height="7.56" fill="#6f6ff2"/>
<rect x="612.00" y="166.48" width="29.70" height="7.56" fill="#f8acac"/>
<rect x="641.40" y="166.48" width="29.70" height="7.56" fill="#f8acac"/>
<rect x="670.80" y="166.48" width="29.70" height="7.56" fill="#fb1111"/>
<rect x="700.20" y="166.48" width="29.70" height="7.56" fill="#fdf5f5"/>
<rect x="729.60" y="166.48" width="29.70" height="7.56" fill="#f77b7b"/>
<rect x="759.00" y="166.48" width="29.70" height="7.56" fill="#f5f1fc"/>
<rect x="788.40" y="166.48" width="29.70" height="7.56" fill="#1b3ef9"/>
<rect x="817.80" y="166.48" width="29.70" height="7.56" fill="#cec3fa"/>
<rect x="847.20" y="166.48" width="29.70" height="7.56" fill="#1b3ef9"/>
<rect x="876.60" y="166.48" width="29.70" height="7.56" fill="#1b3ef9"/>
<rect x="612.00" y="173.75" width="29.70" height="7.56" fill="#f84545"/>
<rect x="641.40" y="173.75" width="29.70" height="7.56" fill="#f84545"/>
<rect x="670.80" y="173.75" width="29.70" height="7.56" fill="#fb1111"/>
<rect x="700.20" y="173.75" width="29.70" height="7.56" fill="#f77b7b"/>
<rect x="729.60" y="173.75" width="29.70" height="7.56" fill="#e6def9"/>
<rect x="759.00" y="173.75" width="29.70" height="7.56" fill="#1b3ef9"/>
<rect x="788.40" y="173.75" width="29.70" height="7.56" fill="#1b3ef9"/>
<rect x="817.80" y="173.75" width="29.70" height="7.56" fill="#a49cf8"/>
<rect x="847.20" y="173.75" width="29.70" height="7.56" fill="#1b3ef9"/>
<rect x="876.60" y="173.75" width="29.70" height="7.56" fill="#6f6ff2"/>
<rect x="612.00" y="181.01" width="29.70" height="7.56" fill="#e6def9"/>
<rect x="641.40" y="181.01" width="29.70" height="7.56" fill="#fb1111"/>
<rect x="670.80" y="181.01" width="29.70" height="7.56" fill="#fb1111"/>
<rect x="700.20" y="181.01" width="29.70" height="7.56" fill="#f84545"/>
<rect x="729.60" y="181.01" width="29.70" height="7.56" fill="#cec3fa"/>
<rect x="759.00" y="181.01" width="29.70" height="7.56" fill="#6f6ff2"/>
<rect x="788.40" y="181.01" width="29.70" height="7.56" fill="#6f6ff2"/>
<rect x="817.80" y="181.01" width="29.70" height="7.56" fill="#4650f0"/>
<rect x="847.20" y="181.01" width="29.70" height="7.56" fill="#1b3ef9"/>
<rect x="876.60" y="181.01" width="29.70" height="7.56" fill="#6f6ff2"/>
<rect x="612.00" y="188.27" width="29.70" height="7.56" fill="#fb1111"/>
<rect x="641.40" y="188.27" width="29.70" height="7.56" fill="#fb1111"/>
<rect x="670.80" y="188.27" width="29.70" height="7.56" fill="#f8acac"/>
<rect x="700.20" y="188.27" width="29.70" height="7.56" fill="#fbd2d2"/>
<rect x="729.60" y="188.27" width="29.70" height="7.56" fill="#f84545"/>
<rect x="759.00" y="188.27" width="29.70" height="7.56" fill="#f8acac"/>
<rect x="788.40" y="188.27" width="29.70" height="7.56" fill="#fbd2d2"/>
<rect x="817.80" y="188.27" width="29.70" height="7.56" fill="#1b3ef9"/>
<rect x="847.20" y="188.27" width="29.70" height="7.56" fill="#4650f0"/>
<rect x="876.60" y="188.27" width="29.70" height="7.56" fill="#1b3ef9"/>
<rect x="612.00" y="195.53" width="29.70" height="7.56" fill="#f8acac"/>
<rect x="641.40" y="195.53" width="29.70" height="7.56" fill="#fb1111"/>
<rect x="670.80" y="195.53" width="29.70" height="7.56" fill="#f77b7b"/>
<rect x="700.20" y="195.53" width="29.70" height="7.56" fill="#1b3ef9"/>
<rect x="729.60" y="195.53" width="29.70" height="7.56" fill="#fb1111"/>
<rect x="759.00" y="195.53" width="29.70" height="7.56" fill="#fdf5f5"/>
<rect x="788.40" y="195.53" width="29.70" height="7.56" fill="#fdf5f5"/>
<rect x="817.80" y="195.53" width="29.70" height="7.56" fill="#4650f0"/>
<rect x="847.20" y="195.53" width="29.70" height="7.56" fill="#4650f0"/>
<rect x="876.60" y="195.53" width="29.70" height="7.56" fill="#1b3ef9"/>
<rect x="612.00" y="202.80" width="29.70" height="7.56" fill="#fb1111"/>
<rect x="641.40" y="202.80" width="29.70" height="7.56" fill="#f77b7b"/>
<rect x="670.80" y="202.80" width="29.70" height="7.56" fill="#f84545"/>
<rect x="700.20" y="202.80" width="29.70" height="7.56" fill="#f8acac"/>
<rect x="729.60" y="202.80" width="29.70" height="7.56" fill="#f77b7b"/>
<rect x="759.00" y="202.80" width="29.70" height="7.56" fill="#f8acac"/>
<rect x="788.40" y="202.80" width="29.70" height="7.56" fill="#1b3ef9"/>
<rect x="817.80" y="202.80" width="29.70" height="7.56" fill="#4650f0"/>
<rect x="847.20" y="202.80" width="29.70" height="7.56" fill="#f8acac"/>
<rect x="876.60" y="202.80" width="29.70" height="7.56" fill="#1b3ef9"/>
<rect x="612.00" y="210.06" width="29.70" height="7.56" fill="#fb1111"/>
<rect x="641.40" y="210.06" width="29.70" height="7.56" fill="#f84545"/>
<rect x="670.80" y="210.06" width="29.70" height="7.56" fill="#f8acac"/>
<rect x="700.20" y="210.06" width="29.70" height="7.56" fill="#f77b7b"/>
<rect x="729.60" y="210.06" width="29.70" height="7.56" fill="#f8acac"/>
<rect x="759.00" y="210.06" width="29.70" height="7.56" fill="#f5f1fc"/>
<rect x="788.40" y="210.06" width="29.70" height="7.56" fill="#4650f0"/>
<rect x="817.80" y="210.06" width="29.70" height="7.56" fill="#cec3fa"/>
<rect x="847.20" y="210.06" width="29.70" height="7.56" fill="#1b3ef9"/>
<rect x="876.60" y="210.06" width="29.70" height="7.56" fill="#1b3ef9"/>
<rect x="612.00" y="217.32" width="29.70" height="7.56" fill="#fb1111"/>
<rect x="641.40" y="217.32" width="29.70" height="7.56" fill="#f5f1fc"/>
<rect x="670.80" y="217.32" width="29.70" height="7.56" fill="#fb1111"/>
<rect x="700.20" y="217.32" width="29.70" height="7.56" fill="#6f6ff2"/>
<rect x="729.60" y="217.32" width="29.70" height="7.56" fill="#fb1111"/>
<rect x="759.00" y="217.32" width="29.70" height="7.56" fill="#1b3ef9"/>
<rect x="788.40" y="217.32" width="29.70" height="7.56" fill="#4650f0"/>
<rect x="817.80" y="217.32" width="29.70" height="7.56" fill="#6f6ff2"/>
<rect x="847.20" y="217.32" width="29.70" height="7.56" fill="#f77b7b"/>
<rect x="876.60" y="217.32" width="29.70" height="7.56" fill="#1b3ef9"/>
<rect x="612.00" y="224.59" width="29.70" height="7.56" fill="#1b3ef9"/>
<rect x="641.40" y="224.59" width="29.70" height="7.56" fill="#fb1111"/>
<rect x="670.80" y="224.59" width="29.70" height="7.56" fill="#f84545"/>
<rect x="700.20" y="224.59" width="29.70" height="7.56" fill="#fb1111"/>
<rect x="729.60" y="224.59" width="29.70" height="7.56" fill="#f5f1fc"/>
<rect x="759.00" y="224.59" width="29.70" height="7.56" fill="#1b3ef9"/>
<rect x="788.40" y="224.59" width="29.70" height="7.56" fill="#a49cf8"/>
<rect x="817.80" y="224.59" width="29.70" height="7.56" fill="#cec3fa"/>
<rect x="847.20" y="224.59" width="29.70" height="7.56" fill="#1b3ef9"/>
<rect x="876.60" y="224.59" width="29.70" height="7.56" fill="#4650f0"/>
<rect x="612.00" y="231.85" width="29.70" height="7.56" fill="#a49cf8"/>
<rect x="641.40" y="231.85" width="29.70" height="7.56" fill="#fb1111"/>
<rect x="670.80" y="231.85" width="29.70" height="7.56" fill="#f77b7b"/>
<rect x="700.20" y="231.85" width="29.70" height="7.56" fill="#fb1111"/>
<rect x="729.60" y="231.85" width="29.70" height="7.56" fill="#f8acac"/>
<rect x="759.00" y="231.85" width="29.70" height="7.56" fill="#6f6ff2"/>
<rect x="788.40" y="231.85" width="29.70" height="7.56" fill="#1b3ef9"/>
<rect x="817.80" y="231.85" width="29.70" height="7.56" fill="#f77b7b"/>
<rect x="847.20" y="231.85" width="29.70" height="7.56" fill="#1b3ef9"/>
<rect x="876.60" y="231.85" width="29.70" height="7.56" fill="#4650f0"/>
<rect x="612.00" y="239.11" width="29.70" height="7.56" fill="#f84545"/>
<rect x="641.40" y="239.11" width="29.70" height="7.56" fill="#fb1111"/>
<rect x="670.80" y="239.11" width="29.70" height="7.56" fill="#cec3fa"/>
<rect x="700.20" y="239.11" width="29.70" height="7.56" fill="#fb1111"/>
<rect x="729.60" y="239.11" width="29.70" height="7.56" fill="#6f6ff2"/>
<rect x="759.00" y="239.11" width="29.70" height="7.56" fill="#4650f0"/>
<rect x="788.40" y="239.11" width="29.70" height="7.56" fill="#1b3ef9"/>
<rect x="817.80" y="239.11" width="29.70" height="7.56" fill="#a49cf8"/>
<rect x="847.20" y="239.11" width="29.70" height="7.56" fill="#a49cf8"/>
<rect x="876.60" y="239.11" width="29.70" height="7.56" fill="#6f6ff2"/>
<rect x="612.00" y="246.38" width="29.70" height="7.56" fill="#f84545"/>
<rect x="641.40" y="246.38" width="29.70" height="7.56" fill="#fb1111"/>
<rect x="670.80" y="246.38" width="29.70" height="7.56" fill="#fdf5f5"/>
<rect x="700.20" y="246.38" width="29.70" height="7.56" fill="#fb1111"/>
<rect x="729.60" y="246.38" width="29.70" height="7.56" fill="#fdf5f5"/>
<rect x="759.00" y="246.38" width="29.70" height="7.56" fill="#fbd2d2"/>
<rect x="788.40" y="246.38" width="29.70" height="7.56" fill="#1b3ef9"/>
<rect x="817.80" y="246.38" width="29.70" height="7.56" fill="#4650f0"/>
<rect x="847.20" y="246.38" width="29.70" height="7.56" fill="#4650f0"/>
<rect x="876.60" y="246.38" width="29.70" height="7.56" fill="#6f6ff2"/>
<rect x="612.00" y="253.64" width="29.70" height="7.56" fill="#f5f1fc"/>
<rect x="641.40" y="253.64" width="29.70" height="7.56" fill="#fb1111"/>
<rect x="670.80" y="253.64" width="29.70" height="7.56" fill="#fb1111"/>
<rect x="700.20" y="253.64" width="29.70" height="7.56" fill="#f84545"/>
<rect x="729.60" y="253.64" width="29.70" height="7.56" fill="#e6def9"/>
<rect x="759.00" y="253.64" width="29.70" height="7.56" fill="#fbd2d2"/>
<rect x="788.40" y="253.64" width="29.70" height="7.56" fill="#1b3ef9"/>
<rect x="817.80" y="253.64" width="29.70" height="7.56" fill="#1b3ef9"/>
<rect x="847.20" y="253.64" width="29.70" height="7.56" fill="#cec3fa"/>
<rect x="876.60" y="253.64" width="29.70" height="7.56" fill="#6f6ff2"/>
<rect x="612.00" y="260.90" width="29.70" height="7.56" fill="#e6def9"/>
<rect x="641.40" y="260.90" width="29.70" height="7.56" fill="#f84545"/>
<rect x="670.80" y="260.90" width="29.70" height="7.56" fill="#fbd2d2"/>
<rect x="700.20" y="260.90" width="29.70" height="7.56" fill="#fb1111"/>
<rect x="729.60" y="260.90" width="29.70" height="7.56" fill="#fb1111"/>
<rect x="759.00" y="260.90" width="29.70" height="7.56" fill="#4650f0"/>
<rect x="788.40" y="260.90" width="29.70" height="7.56" fill="#cec3fa"/>
<rect x="817.80" y="260.90" width="29.70" height="7.56" fill="#1b3ef9"/>
<rect x="847.20" y="260.90" width="29.70" height="7.56" fill="#e6def9"/>
<rect x="876.60" y="260.90" width="29.70" height="7.56" fill="#cec3fa"/>
<rect x="612.00" y="268.16" width="29.70" height="7.56" fill="#1b3ef9"/>
<rect x="641.40" y="268.16" width="29.70" height="7.56" fill="#f84545"/>
<rect x="670.80" y="268.16" width="29.70" height="7.56" fill="#cec3fa"/>
<rect x="700.20" y="268.16" width="29.70" height="7.56" fill="#fb1111"/>
<rect x="729.60" y="268.16" width="29.70" height="7.56" fill="#fb1111"/>
<rect x="759.00" y="268.16" width="29.70" height="7.56" fill="#6f6ff2"/>
<rect x="788.40" y="268.16" width="29.70" height="7.56" fill="#4650f0"/>
<rect x="817.80" y="268.16" width="29.70" height="7.56" fill="#a49cf8"/>
<rect x="847.20" y="268.16" width="29.70" height="7.56" fill="#4650f0"/>
<rect x="876.60" y="268.16" width="29.70" height="7.56" fill="#a49cf8"/>
<rect x="612.00" y="275.43" width="29.70" height="7.56" fill="#4650f0"/>
<rect x="641.40" y="275.43" width="29.70" height="7.56" fill="#f8acac"/>
<rect x="670.80" y="275.43" width="29.70" height="7.56" fill="#fb1111"/>
<rect x="700.20" y="275.43" width="29.70" height="7.56" fill="#fb1111"/>
<rect x="729.60" y="275.43" width="29.70" height="7.56" fill="#fb1111"/>
<rect x="759.00" y="275.43" width="29.70" height="7.56" fill="#1b3ef9"/>
<rect x="788.40" y="275.43" width="29.70" height="7.56" fill="#6f6ff2"/>
<rect x="817.80" y="275.43" width="29.70" height="7.56" fill="#a49cf8"/>
<rect x="847.20" y="275.43" width="29.70" height="7.56" fill="#a49cf8"/>
<rect x="876.60" y="275.43" width="29.70" height="7.56" fill="#1b3ef9"/>
<rect x="612.00" y="282.69" width="29.70" height="7.56" fill="#f84545"/>
<rect x="641.40" y="282.69" width="29.70" height="7.56" fill="#f84545"/>
<rect x="670.80" y="282.69" width="29.70" height="7.56" fill="#f84545"/>
<rect x="700.20" y="282.69" width="29.70" height="7.56" fill="#fb1111"/>
<rect x="729.60" y="282.69" width="29.70" height="7.56" fill="#f77b7b"/>
<rect x="759.00" y="282.69" width="29.70" height="7.56" fill="#1b3ef9"/>
<rect x="788.40" y="282.69" width="29.70" height="7.56" fill="#a49cf8"/>
<rect x="817.80" y="282.69" width="29.70" height="7.56" fill="#6f6ff2"/>
<rect x="847.20" y="282.69" width="29.70" height="7.56" fill="#4650f0"/>
<rect x="876.60" y="282.69" width="29.70" height="7.56" fill="#a49cf8"/>
<rect x="612.00" y="289.95" width="29.70" height="7.56" fill="#fb1111"/>
<rect x="641.40" y="289.95" width="29.70" height="7.56" fill="#f8acac"/>
<rect x="670.80" y="289.95" width="29.70" height="7.56" fill="#f84545"/>
<rect x="700.20" y="289.95" width="29.70" height="7.56" fill="#fb1111"/>
<rect x="729.60" y="289.95" width="29.70" height="7.56" fill="#fdf5f5"/>
<rect x="759.00" y="289.95" width="29.70" height="7.56" fill="#1b3ef9"/>
<rect x="788.40" y="289.95" width="29.70" height="7.56" fill="#fdf5f5"/>
<rect x="817.80" y="289.95" width="29.70" height="7.56" fill="#6f6ff2"/>
<rect x="847.20" y="289.95" width="29.70" height="7.56" fill="#4650f0"/>
<rect x="876.60" y="289.95" width="29.70" height="7.56" fill="#6f6ff2"/>
<rect x="612.00" y="297.22" width="29.70" height="7.56" fill="#f77b7b"/>
<rect x="641.40" y="297.22" width="29.70" height="7.56" fill="#fb1111"/>
<rect x="670.80" y="297.22" width="29.70" height="7.56" fill="#f8acac"/>
<rect x="700.20" y="297.22" width="29.70" height="7.56" fill="#fb1111"/>
<rect x="729.60" y="297.22" width="29.70" height="7.56" fill="#fb1111"/>
<rect x="759.00" y="297.22" width="29.70" height="7.56" fill="#1b3ef9"/>
<rect x="788.40" y="297.22" width="29.70" height="7.56" fill="#6f6ff2"/>
<rect x="817.80" y="297.22" width="29.70" height="7.56" fill="#f5f1fc"/>
<rect x="847.20" y="297.22" width="29.70" height="7.56" fill="#1b3ef9"/>
<rect x="876.60" y="297.22" width="29.70" height="7.56" fill="#e6def9"/>
<rect x="612.00" y="304.48" width="29.70" height="7.56" fill="#6f6ff2"/>
<rect x="641.40" y="304.48" width="29.70" height="7.56" fill="#cec3fa"/>
<rect x="670.80" y="304.48" width="29.70" height="7.56" fill="#fb1111"/>
<rect x="700.20" y="304.48" width="29.70" height="7.56" fill="#fb1111"/>
<rect x="729.60" y="304.48" width="29.70" height="7.56" fill="#f77b7b"/>
<rect x="759.00" y="304.48" width="29.70" height="7.56" fill="#1b3ef9"/>
<rect x="788.40" y="304.48" width="29.70" height="7.56" fill="#a49cf8"/>
<rect x="817.80" y="304.48" width="29.70" height="7.56" fill="#e6def9"/>
<rect x="847.20" y="304.48" width="29.70" height="7.56" fill="#1b3ef9"/>
<rect x="876.60" y="304.48" width="29.70" height="7.56" fill="#e6def9"/>
<rect x="612.00" y="311.74" width="29.70" height="7.56" fill="#f84545"/>
<rect x="641.40" y="311.74" width="29.70" height="7.56" fill="#f5f1fc"/>
<rect x="670.80" y="311.74" width="29.70" height="7.56" fill="#6f6ff2"/>
<rect x="700.20" y="311.74" width="29.70" height="7.56" fill="#fb1111"/>
<rect x="729.60" y="311.74" width="29.70" height="7.56" fill="#fb1111"/>
<rect x="759.00" y="311.74" width="29.70" height="7.56" fill="#f77b7b"/>
<rect x="788.40" y="311.74" width="29.70" height="7.56" fill="#1b3ef9"/>
<rect x="817.80" y="311.74" width="29.70" height="7.56" fill="#4650f0"/>
<rect x="847.20" y="311.74" width="29.70" height="7.56" fill="#1b3ef9"/>
<rect x="876.60" y="311.74" width="29.70" height="7.56" fill="#1b3ef9"/>
<rect x="612.00" y="319.00" width="29.70" height="7.56" fill="#fb1111"/>
<rect x="641.40" y="319.00" width="29.70" height="7.56" fill="#a49cf8"/>
<rect x="670.80" y="319.00" width="29.70" height="7.56" fill="#fbd2d2"/>
<rect x="700.20" y="319.00" width="29.70" height="7.56" fill="#fb1111"/>
<rect x="729.60" y="319.00" width="29.70" height="7.56" fill="#fb1111"/>
<rect x="759.00" y="319.00" width="29.70" height="7.56" fill="#fdf5f5"/>
<rect x="788.40" y="319.00" width="29.70" height="7.56" fill="#1b3ef9"/>
<rect x="817.80" y="319.00" width="29.70" height="7.56" fill="#1b3ef9"/>
<rect x="847.20" y="319.00" width="29.70" height="7.56" fill="#1b3ef9"/>
<rect x="876.60" y="319.00" width="29.70" height="7.56" fill="#4650f0"/>
<rect x="612.00" y="326.27" width="29.70" height="7.56" fill="#fdf5f5"/>
<rect x="641.40" y="326.27" width="29.70" height="7.56" fill="#fdf5f5"/>
<rect x="670.80" y="326.27" width="29.70" height="7.56" fill="#f84545"/>
<rect x="700.20" y="326.27" width="29.70" height="7.56" fill="#fb1111"/>
<rect x="729.60" y="326.27" width="29.70" height="7.56" fill="#f84545"/>
<rect x="759.00" y="326.27" width="29.70" height="7.56" fill="#fdf5f5"/>
<rect x="788.40" y="326.27" width="29.70" height="7.56" fill="#1b3ef9"/>
<rect x="817.80" y="326.27" width="29.70" height="7.56" fill="#1b3ef9"/>
<rect x="847.20" y="326.27" width="29.70" height="7.56" fill="#e6def9"/>
<rect x="876.60" y="326.27" width="29.70" height="7.56" fill="#1b3ef9"/>
<rect x="612.00" y="333.53" width="29.70" height="7.56" fill="#fb1111"/>
<rect x="641.40" y="333.53" width="29.70" height="7.56" fill="#6f6ff2"/>
<rect x="670.80" y="333.53" width="29.70" height="7.56" fill="#f84545"/>
<rect x="700.20" y="333.53" width="29.70" height="7.56" fill="#fb1111"/>
<rect x="729.60" y="333.53" width="29.70" height="7.56" fill="#f8acac"/>
<rect x="759.00" y="333.53" width="29.70" height="7.56" fill="#a49cf8"/>
<rect x="788.40" y="333.53" width="29.70" height="7.56" fill="#1b3ef9"/>
<rect x="817.80" y="333.53" width="29.70" height="7.56" fill="#6f6ff2"/>
<rect x="847.20" y="333.53" width="29.70" height="7.56" fill="#fbd2d2"/>
<rect x="876.60" y="333.53" width="29.70" height="7.56" fill="#1b3ef9"/>
<rect x="612.00" y="340.79" width="29.70" height="7.56" fill="#fb1111"/>
<rect x="641.40" y="340.79" width="29.70" height="7.56" fill="#fb1111"/>
<rect x="670.80" y="340.79" width="29.70" height="7.56" fill="#6f6ff2"/>
<rect x="700.20" y="340.79" width="29.70" height="7.56" fill="#fbd2d2"/>
<rect x="729.60" y="340.79" width="29.70" height="7.56" fill="#fdf5f5"/>
<rect x="759.00" y="340.79" width="29.70" height="7.56" fill="#1b3ef9"/>
<rect x="788.40" y="340.79" width="29.70" height="7.56" fill="#4650f0"/>
<rect x="817.80" y="340.79" width="29.70" height="7.56" fill="#6f6ff2"/>
<rect x="847.20" y="340.79" width="29.70" height="7.56" fill="#fbd2d2"/>
<rect x="876.60" y="340.79" width="29.70" height="7.56" fill="#4650f0"/>
<rect x="612.00" y="348.06" width="29.70" height="7.56" fill="#f84545"/>
<rect x="641.40" y="348.06" width="29.70" height="7.56" fill="#fb1111"/>
<rect x="670.80" y="348.06" width="29.70" height="7.56" fill="#1b3ef9"/>
<rect x="700.20" y="348.06" width="29.70" height="7.56" fill="#fb1111"/>
<rect x="729.60" y="348.06" width="29.70" height="7.56" fill="#f8acac"/>
<rect x="759.00" y="348.06" width="29.70" height="7.56" fill="#4650f0"/>
<rect x="788.40" y="348.06" width="29.70" height="7.56" fill="#4650f0"/>
<rect x="817.80" y="348.06" width="29.70" height="7.56" fill="#1b3ef9"/>
<rect x="847.20" y="348.06" width="29.70" height="7.56" fill="#f77b7b"/>
<rect x="876.60" y="348.06" width="29.70" height="7.56" fill="#1b3ef9"/>
<rect x="612.00" y="355.32" width="29.70" height="7.56" fill="#fb1111"/>
<rect x="641.40" y="355.32" width="29.70" height="7.56" fill="#fb1111"/>
<rect x="670.80" y="355.32" width="29.70" height="7.56" fill="#a49cf8"/>
<rect x="700.20" y="355.32" width="29.70" height="7.56" fill="#f5f1fc"/>
<rect x="729.60" y="355.32" width="29.70" height="7.56" fill="#f77b7b"/>
<rect x="759.00" y="355.32" width="29.70" height="7.56" fill="#e6def9"/>
<rect x="788.40" y="355.32" width="29.70" height="7.56" fill="#1b3ef9"/>
<rect x="817.80" y="355.32" width="29.70" height="7.56" fill="#4650f0"/>
<rect x="847.20" y="355.32" width="29.70" height="7.56" fill="#6f6ff2"/>
<rect x="876.60" y="355.32" width="29.70" height="7.56" fill="#1b3ef9"/>
<rect x="612.00" y="362.58" width="29.70" height="7.56" fill="#e6def9"/>
<rect x="641.40" y="362.58" width="29.70" height="7.56" fill="#fb1111"/>
<rect x="670.80" y="362.58" width="29.70" height="7.56" fill="#fb1111"/>
<rect x="700.20" y="362.58" width="29.70" height="7.56" fill="#f5f1fc"/>
<rect x="729.60" y="362.58" width="29.70" height="7.56" fill="#fbd2d2"/>
<rect x="759.00" y="362.58" width="29.70" height="7.56" fill="#4650f0"/>
<rect x="788.40" y="362.58" width="29.70" height="7.56" fill="#fdf5f5"/>
<rect x="817.80" y="362.58" width="29.70" height="7.56" fill="#4650f0"/>
<rect x="847.20" y="362.58" width="29.70" height="7.56" fill="#1b3ef9"/>
<rect x="876.60" y="362.58" width="29.70" height="7.56" fill="#6f6ff2"/>
<rect x="612.00" y="369.85" width="29.70" height="7.56" fill="#cec3fa"/>
<rect x="641.40" y="369.85" width="29.70" height="7.56" fill="#fb1111"/>
<rect x="670.80" y="369.85" width="29.70" height="7.56" fill="#fb1111"/>
<rect x="700.20" y="369.85" width="29.70" height="7.56" fill="#fdf5f5"/>
<rect x="729.60" y="369.85" width="29.70" height="7.56" fill="#fb1111"/>
<rect x="759.00" y="369.85" width="29.70" height="7.56" fill="#1b3ef9"/>
<rect x="788.40" y="369.85" width="29.70" height="7.56" fill="#a49cf8"/>
<rect x="817.80" y="369.85" width="29.70" height="7.56" fill="#a49cf8"/>
<rect x="847.20" y="369.85" width="29.70" height="7.56" fill="#b5c0bb"/>
<rect x="876.60" y="369.85" width="29.70" height="7.56" fill="#1b3ef9"/>
<rect x="612.00" y="377.11" width="29.70" height="7.56" fill="#fb1111"/>
<rect x="641.40" y="377.11" width="29.70" height="7.56" fill="#fb1111"/>
<rect x="670.80" y="377.11" width="29.70" height="7.56" fill="#f77b7b"/>
<rect x="700.20" y="377.11" width="29.70" height="7.56" fill="#fdf5f5"/>
<rect x="729.60" y="377.11" width="29.70" height="7.56" fill="#fbd2d2"/>
<rect x="759.00" y="377.11" width="29.70" height="7.56" fill="#1b3ef9"/>
<rect x="788.40" y="377.11" width="29.70" height="7.56" fill="#f8acac"/>
<rect x="817.80" y="377.11" width="29.70" height="7.56" fill="#1b3ef9"/>
<rect x="847.20" y="377.11" width="29.70" height="7.56" fill="#1b3ef9"/>
<rect x="876.60" y="377.11" width="29.70" height="7.56" fill="#4650f0"/>
<rect x="612.00" y="384.37" width="29.70" height="7.56" fill="#f84545"/>
<rect x="641.40" y="384.37" width="29.70" height="7.56" fill="#fb1111"/>
<rect x="670.80" y="384.37" width="29.70" height="7.56" fill="#f8acac"/>
<rect x="700.20" y="384.37" width="29.70" height="7.56" fill="#f8acac"/>
<rect x="729.60" y="384.37" width="29.70" height="7.56" fill="#fb1111"/>
<rect x="759.00" y="384.37" width="29.70" height="7.56" fill="#1b3ef9"/>
<rect x="788.40" y="384.37" width="29.70" height="7.56" fill="#cec3fa"/>
<rect x="817.80" y="384.37" width="29.70" height="7.56" fill="#1b3ef9"/>
<rect x="847.20" y="384.37" width="29.70" height="7.56" fill="#e6def9"/>
<rect x="876.60" y="384.37" width="29.70" height="7.56" fill="#a49cf8"/>
<rect x="612.00" y="391.63" width="29.70" height="7.56" fill="#f84545"/>
<rect x="641.40" y="391.63" width="29.70" height="7.56" fill="#fb1111"/>
<rect x="670.80" y="391.63" width="29.70" height="7.56" fill="#cec3fa"/>
<rect x="700.20" y="391.63" width="29.70" height="7.56" fill="#f77b7b"/>
<rect x="729.60" y="391.63" width="29.70" height="7.56" fill="#f84545"/>
<rect x="759.00" y="391.63" width="29.70" height="7.56" fill="#b5c0bb"/>
<rect x="788.40" y="391.63" width="29.70" height="7.56" fill="#a49cf8"/>
<rect x="817.80" y="391.63" width="29.70" height="7.56" fill="#f77b7b"/>
<rect x="847.20" y="391.63" width="29.70" height="7.56" fill="#1b3ef9"/>
<rect x="876.60" y="391.63" width="29.70" height="7.56" fill="#1b3ef9"/>
<rect x="612.00" y="398.90" width="29.70" height="7.56" fill="#f8acac"/>
<rect x="641.40" y="398.90" width="29.70" height="7.56" fill="#fb1111"/>
<rect x="670.80" y="398.90" width="29.70" height="7.56" fill="#f8acac"/>
<rect x="700.20" y="398.90" width="29.70" height="7.56" fill="#fb1111"/>
<rect x="729.60" y="398.90" width="29.70" height="7.56" fill="#f77b7b"/>
<rect x="759.00" y="398.90" width="29.70" height="7.56" fill="#1b3ef9"/>
<rect x="788.40" y="398.90" width="29.70" height="7.56" fill="#f77b7b"/>
<rect x="817.80" y="398.90" width="29.70" height="7.56" fill="#f77b7b"/>
<rect x="847.20" y="398.90" width="29.70" height="7.56" fill="#1b3ef9"/>
<rect x="876.60" y="398.90" width="29.70" height="7.56" fill="#1b3ef9"/>
<rect x="612.00" y="406.16" width="29.70" height="7.56" fill="#fb1111"/>
<rect x="641.40" y="406.16" width="29.70" height="7.56" fill="#fbd2d2"/>
<rect x="670.80" y="406.16" width="29.70" height="7.56" fill="#f84545"/>
<rect x="700.20" y="406.16" width="29.70" height="7.56" fill="#cec3fa"/>
<rect x="729.60" y="406.16" width="29.70" height="7.56" fill="#b5c0bb"/>
<rect x="759.00" y="406.16" width="29.70" height="7.56" fill="#4650f0"/>
<rect x="788.40" y="406.16" width="29.70" height="7.56" fill="#1b3ef9"/>
<rect x="817.80" y="406.16" width="29.70" height="7.56" fill="#b5c0bb"/>
<rect x="847.20" y="406.16" width="29.70" height="7.56" fill="#b5c0bb"/>
<rect x="876.60" y="406.16" width="29.70" height="7.56" fill="#4650f0"/>
<rect x="612.00" y="413.42" width="29.70" height="7.56" fill="#fb1111"/>
<rect x="641.40" y="413.42" width="29.70" height="7.56" fill="#fbd2d2"/>
<rect x="670.80" y="413.42" width="29.70" height="7.56" fill="#fb1111"/>
<rect x="700.20" y="413.42" width="29.70" height="7.56" fill="#fbd2d2"/>
<rect x="729.60" y="413.42" width="29.70" height="7.56" fill="#a49cf8"/>
<rect x="759.00" y="413.42" width="29.70" height="7.56" fill="#1b3ef9"/>
<rect x="788.40" y="413.42" width="29.70" height="7.56" fill="#4650f0"/>
<rect x="817.80" y="413.42" width="29.70" height="7.56" fill="#a49cf8"/>
<rect x="847.20" y="413.42" width="29.70" height="7.56" fill="#1b3ef9"/>
<rect x="876.60" y="413.42" width="29.70" height="7.56" fill="#cec3fa"/>
<rect x="612.00" y="420.69" width="29.70" height="7.56" fill="#fb1111"/>
<rect x="641.40" y="420.69" width="29.70" height="7.56" fill="#fdf5f5"/>
<rect x="670.80" y="420.69" width="29.70" height="7.56" fill="#f8acac"/>
<rect x="700.20" y="420.69" width="29.70" height="7.56" fill="#f8acac"/>
<rect x="729.60" y="420.69" width="29.70" height="7.56" fill="#cec3fa"/>
<rect x="759.00" y="420.69" width="29.70" height="7.56" fill="#6f6ff2"/>
<rect x="788.40" y="420.69" width="29.70" height="7.56" fill="#a49cf8"/>
<rect x="817.80" y="420.69" width="29.70" height="7.56" fill="#4650f0"/>
<rect x="847.20" y="420.69" width="29.70" height="7.56" fill="#1b3ef9"/>
<rect x="876.60" y="420.69" width="29.70" height="7.56" fill="#cec3fa"/>
<rect x="612.00" y="427.95" width="29.70" height="7.56" fill="#fb1111"/>
<rect x="641.40" y="427.95" width="29.70" height="7.56" fill="#fbd2d2"/>
<rect x="670.80" y="427.95" width="29.70" height="7.56" fill="#f8acac"/>
<rect x="700.20" y="427.95" width="29.70" height="7.56" fill="#f77b7b"/>
<rect x="729.60" y="427.95" width="29.70" height="7.56" fill="#cec3fa"/>
<rect x="759.00" y="427.95" width="29.70" height="7.56" fill="#fdf5f5"/>
<rect x="788.40" y="427.95" width="29.70" height="7.56" fill="#4650f0"/>
<rect x="817.80" y="427.95" width="29.70" height="7.56" fill="#1b3ef9"/>
<rect x="847.20" y="427.95" width="29.70" height="7.56" fill="#e6def9"/>
<rect x="876.60" y="427.95" width="29.70" height="7.56" fill="#1b3ef9"/>
<rect x="612.00" y="435.21" width="29.70" height="7.56" fill="#fb1111"/>
<rect x="641.40" y="435.21" width="29.70" height="7.56" fill="#f77b7b"/>
<rect x="670.80" y="435.21" width="29.70" height="7.56" fill="#6f6ff2"/>
<rect x="700.20" y="435.21" width="29.70" height="7.56" fill="#f77b7b"/>
<rect x="729.60" y="435.21" width="29.70" height="7.56" fill="#f8acac"/>
<rect x="759.00" y="435.21" width="29.70" height="7.56" fill="#1b3ef9"/>
<rect x="788.40" y="435.21" width="29.70" height="7.56" fill="#6f6ff2"/>
<rect x="817.80" y="435.21" width="29.70" height="7.56" fill="#4650f0"/>
<rect x="847.20" y="435.21" width="29.70" height="7.56" fill="#fdf5f5"/>
<rect x="876.60" y="435.21" width="29.70" height="7.56" fill="#a49cf8"/>
<rect x="612.00" y="442.48" width="29.70" height="7.56" fill="#fb1111"/>
<rect x="641.40" y="442.48" width="29.70" height="7.56" fill="#f77b7b"/>
<rect x="670.80" y="442.48" width="29.70" height="7.56" fill="#cec3fa"/>
<rect x="700.20" y="442.48" width="29.70" height="7.56" fill="#fb1111"/>
<rect x="729.60" y="442.48" width="29.70" height="7.56" fill="#fdf5f5"/>
<rect x="759.00" y="442.48" width="29.70" height="7.56" fill="#1b3ef9"/>
<rect x="788.40" y="442.48" width="29.70" height="7.56" fill="#1b3ef9"/>
<rect x="817.80" y="442.48" width="29.70" height="7.56" fill="#cec3fa"/>
<rect x="847.20" y="442.48" width="29.70" height="7.56" fill="#f8acac"/>
<rect x="876.60" y="442.48" width="29.70" height="7.56" fill="#cec3fa"/>
<rect x="612.00" y="449.74" width="29.70" height="7.56" fill="#fb1111"/>
<rect x="641.40" y="449.74" width="29.70" height="7.56" fill="#fb1111"/>
<rect x="670.80" y="449.74" width="29.70" height="7.56" fill="#cec3fa"/>
<rect x="700.20" y="449.74" width="29.70" height="7.56" fill="#f84545"/>
<rect x="729.60" y="449.74" width="29.70" height="7.56" fill="#fbd2d2"/>
<rect x="759.00" y="449.74" width="29.70" height="7.56" fill="#1b3ef9"/>
<rect x="788.40" y="449.74" width="29.70" height="7.56" fill="#1b3ef9"/>
<rect x="817.80" y="449.74" width="29.70" height="7.56" fill="#a49cf8"/>
<rect x="847.20" y="449.74" width="29.70" height="7.56" fill="#4650f0"/>
<rect x="876.60" y="449.74" width="29.70" height="7.56" fill="#cec3fa"/>
</g>
<text transform="translate(629.0,62.9) rotate(-90)" font-family="'Liberation Serif', serif" font-size="11.5" textLength="20" lengthAdjust="spacingAndGlyphs" fill="#111" stroke="#111" stroke-width="0.3">F-P-4</text>
<text transform="translate(658.4,62.9) rotate(-90)" font-family="'Liberation Serif', serif" font-size="11.5" textLength="20" lengthAdjust="spacingAndGlyphs" fill="#111" stroke="#111" stroke-width="0.3">F-P-1</text>
<text transform="translate(687.8,62.9) rotate(-90)" font-family="'Liberation Serif', serif" font-size="11.5" textLength="20" lengthAdjust="spacingAndGlyphs" fill="#111" stroke="#111" stroke-width="0.3">F-P-2</text>
<text transform="translate(717.2,62.9) rotate(-90)" font-family="'Liberation Serif', serif" font-size="11.5" textLength="20" lengthAdjust="spacingAndGlyphs" fill="#111" stroke="#111" stroke-width="0.3">F-P-5</text>
<text transform="translate(746.6,62.9) rotate(-90)" font-family="'Liberation Serif', serif" font-size="11.5" textLength="20" lengthAdjust="spacingAndGlyphs" fill="#111" stroke="#111" stroke-width="0.3">F-P-3</text>
<text transform="translate(776.0,62.9) rotate(-90)" font-family="'Liberation Serif', serif" font-size="11.5" textLength="20" lengthAdjust="spacingAndGlyphs" fill="#111" stroke="#111" stroke-width="0.3">S-P-4</text>
<text transform="translate(805.4,62.9) rotate(-90)" font-family="'Liberation Serif', serif" font-size="11.5" textLength="20" lengthAdjust="spacingAndGlyphs" fill="#111" stroke="#111" stroke-width="0.3">S-P-2</text>
<text transform="translate(834.8,62.9) rotate(-90)" font-family="'Liberation Serif', serif" font-size="11.5" textLength="20" lengthAdjust="spacingAndGlyphs" fill="#111" stroke="#111" stroke-width="0.3">S-P-1</text>
<text transform="translate(864.2,62.9) rotate(-90)" font-family="'Liberation Serif', serif" font-size="11.5" textLength="20" lengthAdjust="spacingAndGlyphs" fill="#111" stroke="#111" stroke-width="0.3">S-P-3</text>
<text transform="translate(893.6,62.9) rotate(-90)" font-family="'Liberation Serif', serif" font-size="11.5" textLength="20" lengthAdjust="spacingAndGlyphs" fill="#111" stroke="#111" stroke-width="0.3">S-P-5</text>
<text transform="translate(910,71.03) scale(1.425,1)" font-family="'Liberation Sans', sans-serif" font-size="7.2" fill="#1a1a1a" stroke="#1a1a1a" stroke-width="0.15">A0A024R145</text>
<text transform="translate(910,78.29) scale(1.425,1)" font-family="'Liberation Sans', sans-serif" font-size="7.2" fill="#1a1a1a" stroke="#1a1a1a" stroke-width="0.15">A0A0S2Z3Y1</text>
<text transform="translate(910,85.56) scale(1.425,1)" font-family="'Liberation Sans', sans-serif" font-size="7.2" fill="#1a1a1a" stroke="#1a1a1a" stroke-width="0.15">A0A024R6R4</text>
<text transform="translate(910,92.82) scale(1.425,1)" font-family="'Liberation Sans', sans-serif" font-size="7.2" fill="#1a1a1a" stroke="#1a1a1a" stroke-width="0.15">A0A5C2G267</text>
<text transform="translate(910,100.08) scale(1.425,1)" font-family="'Liberation Sans', sans-serif" font-size="7.2" fill="#1a1a1a" stroke="#1a1a1a" stroke-width="0.15">A0A5C2GUD9</text>
<text transform="translate(910,107.35) scale(1.425,1)" font-family="'Liberation Sans', sans-serif" font-size="7.2" fill="#1a1a1a" stroke="#1a1a1a" stroke-width="0.15">A0A5F9ZHM4</text>
<text transform="translate(910,114.61) scale(1.425,1)" font-family="'Liberation Sans', sans-serif" font-size="7.2" fill="#1a1a1a" stroke="#1a1a1a" stroke-width="0.15">A0A087WXI2</text>
<text transform="translate(910,121.87) scale(1.425,1)" font-family="'Liberation Sans', sans-serif" font-size="7.2" fill="#1a1a1a" stroke="#1a1a1a" stroke-width="0.15">A0A5C2GG03</text>
<text transform="translate(910,129.14) scale(1.425,1)" font-family="'Liberation Sans', sans-serif" font-size="7.2" fill="#1a1a1a" stroke="#1a1a1a" stroke-width="0.15">A0A5C2G3P6</text>
<text transform="translate(910,136.40) scale(1.425,1)" font-family="'Liberation Sans', sans-serif" font-size="7.2" fill="#1a1a1a" stroke="#1a1a1a" stroke-width="0.15">L8E853</text>
<text transform="translate(910,143.66) scale(1.425,1)" font-family="'Liberation Sans', sans-serif" font-size="7.2" fill="#1a1a1a" stroke="#1a1a1a" stroke-width="0.15">A0A5C2GPS6</text>
<text transform="translate(910,150.92) scale(1.425,1)" font-family="'Liberation Sans', sans-serif" font-size="7.2" fill="#1a1a1a" stroke="#1a1a1a" stroke-width="0.15">A0A5C2GWD7</text>
<text transform="translate(910,158.19) scale(1.425,1)" font-family="'Liberation Sans', sans-serif" font-size="7.2" fill="#1a1a1a" stroke="#1a1a1a" stroke-width="0.15">A0A5C2GB45</text>
<text transform="translate(910,165.45) scale(1.425,1)" font-family="'Liberation Sans', sans-serif" font-size="7.2" fill="#1a1a1a" stroke="#1a1a1a" stroke-width="0.15">A0A5C2GDW0</text>
<text transform="translate(910,172.71) scale(1.425,1)" font-family="'Liberation Sans', sans-serif" font-size="7.2" fill="#1a1a1a" stroke="#1a1a1a" stroke-width="0.15">A0A5C2FZ01</text>
<text transform="translate(910,179.98) scale(1.425,1)" font-family="'Liberation Sans', sans-serif" font-size="7.2" fill="#1a1a1a" stroke="#1a1a1a" stroke-width="0.15">A0A5C2GC36</text>
<text transform="translate(910,187.24) scale(1.425,1)" font-family="'Liberation Sans', sans-serif" font-size="7.2" fill="#1a1a1a" stroke="#1a1a1a" stroke-width="0.15">A0A5C2G9T7</text>
<text transform="translate(910,194.50) scale(1.425,1)" font-family="'Liberation Sans', sans-serif" font-size="7.2" fill="#1a1a1a" stroke="#1a1a1a" stroke-width="0.15">A0A5C2FW17</text>
<text transform="translate(910,201.77) scale(1.425,1)" font-family="'Liberation Sans', sans-serif" font-size="7.2" fill="#1a1a1a" stroke="#1a1a1a" stroke-width="0.15">A0A5C2H0H1</text>
<text transform="translate(910,209.03) scale(1.425,1)" font-family="'Liberation Sans', sans-serif" font-size="7.2" fill="#1a1a1a" stroke="#1a1a1a" stroke-width="0.15">A0A5C2GKC6</text>
<text transform="translate(910,216.29) scale(1.425,1)" font-family="'Liberation Sans', sans-serif" font-size="7.2" fill="#1a1a1a" stroke="#1a1a1a" stroke-width="0.15">A0A5C2GIP8</text>
<text transform="translate(910,223.55) scale(1.425,1)" font-family="'Liberation Sans', sans-serif" font-size="7.2" fill="#1a1a1a" stroke="#1a1a1a" stroke-width="0.15">A0A5C2GER5</text>
<text transform="translate(910,230.82) scale(1.425,1)" font-family="'Liberation Sans', sans-serif" font-size="7.2" fill="#1a1a1a" stroke="#1a1a1a" stroke-width="0.15">A0A5C2GIW6</text>
<text transform="translate(910,238.08) scale(1.425,1)" font-family="'Liberation Sans', sans-serif" font-size="7.2" fill="#1a1a1a" stroke="#1a1a1a" stroke-width="0.15">A0A5C2G8T5</text>
<text transform="translate(910,245.34) scale(1.425,1)" font-family="'Liberation Sans', sans-serif" font-size="7.2" fill="#1a1a1a" stroke="#1a1a1a" stroke-width="0.15">Q13790</text>
<text transform="translate(910,252.61) scale(1.425,1)" font-family="'Liberation Sans', sans-serif" font-size="7.2" fill="#1a1a1a" stroke="#1a1a1a" stroke-width="0.15">A0A5C2FT85</text>
<text transform="translate(910,259.87) scale(1.425,1)" font-family="'Liberation Sans', sans-serif" font-size="7.2" fill="#1a1a1a" stroke="#1a1a1a" stroke-width="0.15">A0A5C2G0C4</text>
<text transform="translate(910,267.13) scale(1.425,1)" font-family="'Liberation Sans', sans-serif" font-size="7.2" fill="#1a1a1a" stroke="#1a1a1a" stroke-width="0.15">A0A5C2GE58</text>
<text transform="translate(910,274.40) scale(1.425,1)" font-family="'Liberation Sans', sans-serif" font-size="7.2" fill="#1a1a1a" stroke="#1a1a1a" stroke-width="0.15">A0A5C2G1H9</text>
<text transform="translate(910,281.66) scale(1.425,1)" font-family="'Liberation Sans', sans-serif" font-size="7.2" fill="#1a1a1a" stroke="#1a1a1a" stroke-width="0.15">A0A5C2G830</text>
<text transform="translate(910,288.92) scale(1.425,1)" font-family="'Liberation Sans', sans-serif" font-size="7.2" fill="#1a1a1a" stroke="#1a1a1a" stroke-width="0.15">A0A5C2GP39</text>
<text transform="translate(910,296.18) scale(1.425,1)" font-family="'Liberation Sans', sans-serif" font-size="7.2" fill="#1a1a1a" stroke="#1a1a1a" stroke-width="0.15">A0A5C2G773</text>
<text transform="translate(910,303.45) scale(1.425,1)" font-family="'Liberation Sans', sans-serif" font-size="7.2" fill="#1a1a1a" stroke="#1a1a1a" stroke-width="0.15">A0A5C2GVU1</text>
<text transform="translate(910,310.71) scale(1.425,1)" font-family="'Liberation Sans', sans-serif" font-size="7.2" fill="#1a1a1a" stroke="#1a1a1a" stroke-width="0.15">Q9UL92</text>
<text transform="translate(910,317.97) scale(1.425,1)" font-family="'Liberation Sans', sans-serif" font-size="7.2" fill="#1a1a1a" stroke="#1a1a1a" stroke-width="0.15">A0A5C2GXS3</text>
<text transform="translate(910,325.24) scale(1.425,1)" font-family="'Liberation Sans', sans-serif" font-size="7.2" fill="#1a1a1a" stroke="#1a1a1a" stroke-width="0.15">A0A5C2FUJ1</text>
<text transform="translate(910,332.50) scale(1.425,1)" font-family="'Liberation Sans', sans-serif" font-size="7.2" fill="#1a1a1a" stroke="#1a1a1a" stroke-width="0.15">A0A5C2GQ71</text>
<text transform="translate(910,339.76) scale(1.425,1)" font-family="'Liberation Sans', sans-serif" font-size="7.2" fill="#1a1a1a" stroke="#1a1a1a" stroke-width="0.15">A0A5C2GHA2</text>
<text transform="translate(910,347.03) scale(1.425,1)" font-family="'Liberation Sans', sans-serif" font-size="7.2" fill="#1a1a1a" stroke="#1a1a1a" stroke-width="0.15">B7Z8A2</text>
<text transform="translate(910,354.29) scale(1.425,1)" font-family="'Liberation Sans', sans-serif" font-size="7.2" fill="#1a1a1a" stroke="#1a1a1a" stroke-width="0.15">A0A5C2GQE4</text>
<text transform="translate(910,361.55) scale(1.425,1)" font-family="'Liberation Sans', sans-serif" font-size="7.2" fill="#1a1a1a" stroke="#1a1a1a" stroke-width="0.15">A0A5C2FVW7</text>
<text transform="translate(910,368.81) scale(1.425,1)" font-family="'Liberation Sans', sans-serif" font-size="7.2" fill="#1a1a1a" stroke="#1a1a1a" stroke-width="0.15">A0A5C2GA89</text>
<text transform="translate(910,376.08) scale(1.425,1)" font-family="'Liberation Sans', sans-serif" font-size="7.2" fill="#1a1a1a" stroke="#1a1a1a" stroke-width="0.15">A8K104</text>
<text transform="translate(910,383.34) scale(1.425,1)" font-family="'Liberation Sans', sans-serif" font-size="7.2" fill="#1a1a1a" stroke="#1a1a1a" stroke-width="0.15">A0A5C2GP10</text>
<text transform="translate(910,390.60) scale(1.425,1)" font-family="'Liberation Sans', sans-serif" font-size="7.2" fill="#1a1a1a" stroke="#1a1a1a" stroke-width="0.15">A0A5C2GYN0</text>
<text transform="translate(910,397.87) scale(1.425,1)" font-family="'Liberation Sans', sans-serif" font-size="7.2" fill="#1a1a1a" stroke="#1a1a1a" stroke-width="0.15">A0A5C2GWZ7</text>
<text transform="translate(910,405.13) scale(1.425,1)" font-family="'Liberation Sans', sans-serif" font-size="7.2" fill="#1a1a1a" stroke="#1a1a1a" stroke-width="0.15">A0A5C2G7M9</text>
<text transform="translate(910,412.39) scale(1.425,1)" font-family="'Liberation Sans', sans-serif" font-size="7.2" fill="#1a1a1a" stroke="#1a1a1a" stroke-width="0.15">A2IPI4</text>
<text transform="translate(910,419.66) scale(1.425,1)" font-family="'Liberation Sans', sans-serif" font-size="7.2" fill="#1a1a1a" stroke="#1a1a1a" stroke-width="0.15">Q0ZCJ1</text>
<text transform="translate(910,426.92) scale(1.425,1)" font-family="'Liberation Sans', sans-serif" font-size="7.2" fill="#1a1a1a" stroke="#1a1a1a" stroke-width="0.15">A0A5C2GAN6</text>
<text transform="translate(910,434.18) scale(1.425,1)" font-family="'Liberation Sans', sans-serif" font-size="7.2" fill="#1a1a1a" stroke="#1a1a1a" stroke-width="0.15">A0A5C2GN64</text>
<text transform="translate(910,441.44) scale(1.425,1)" font-family="'Liberation Sans', sans-serif" font-size="7.2" fill="#1a1a1a" stroke="#1a1a1a" stroke-width="0.15">C0JYY2</text>
<text transform="translate(910,448.71) scale(1.425,1)" font-family="'Liberation Sans', sans-serif" font-size="7.2" fill="#1a1a1a" stroke="#1a1a1a" stroke-width="0.15">A0A5C2GLX4</text>
<text transform="translate(910,455.97) scale(1.425,1)" font-family="'Liberation Sans', sans-serif" font-size="7.2" fill="#1a1a1a" stroke="#1a1a1a" stroke-width="0.15">P35542</text>
<line x1="626.5" y1="36.5" x2="626.5" y2="22.3" stroke="#3f4846" stroke-width="1.5"/>
<line x1="655.9" y1="36.5" x2="655.9" y2="24.8" stroke="#3f4846" stroke-width="1.5"/>
<line x1="685.2" y1="36.5" x2="685.2" y2="25.8" stroke="#3f4846" stroke-width="1.5"/>
<line x1="714.8" y1="36.5" x2="714.8" y2="28.7" stroke="#3f4846" stroke-width="1.5"/>
<line x1="744" y1="36.5" x2="744" y2="28.7" stroke="#3f4846" stroke-width="1.5"/>
<line x1="714.8" y1="28.7" x2="744" y2="28.7" stroke="#3f4846" stroke-width="1.2"/>
<line x1="729.4" y1="28.7" x2="729.4" y2="26.3" stroke="#3f4846" stroke-width="1.5"/>
<line x1="685.2" y1="26.3" x2="729.4" y2="26.3" stroke="#3f4846" stroke-width="1.2"/>
<line x1="707" y1="26.3" x2="707" y2="24.8" stroke="#3f4846" stroke-width="1.5"/>
<line x1="655.9" y1="24.8" x2="707" y2="24.8" stroke="#3f4846" stroke-width="1.2"/>
<line x1="681" y1="24.8" x2="681" y2="22.3" stroke="#3f4846" stroke-width="1.5"/>
<line x1="626.5" y1="22.3" x2="681" y2="22.3" stroke="#3f4846" stroke-width="1.2"/>
<line x1="654" y1="22.3" x2="654" y2="18.8" stroke="#3f4846" stroke-width="1.5"/>
<line x1="773.8" y1="36.8" x2="773.8" y2="28.8" stroke="#3f4846" stroke-width="1.5"/>
<line x1="802.6" y1="36.8" x2="802.6" y2="32" stroke="#3f4846" stroke-width="1.5"/>
<line x1="831" y1="36.8" x2="831" y2="32" stroke="#3f4846" stroke-width="1.5"/>
<line x1="802.6" y1="32" x2="831" y2="32" stroke="#3f4846" stroke-width="1.2"/>
<line x1="816.8" y1="32" x2="816.8" y2="30" stroke="#3f4846" stroke-width="1.5"/>
<line x1="861.8" y1="36.8" x2="861.8" y2="33.6" stroke="#3f4846" stroke-width="1.5"/>
<line x1="890.6" y1="36.8" x2="890.6" y2="33.6" stroke="#3f4846" stroke-width="1.5"/>
<line x1="861.8" y1="33.6" x2="890.6" y2="33.6" stroke="#3f4846" stroke-width="1.2"/>
<line x1="876.2" y1="33.6" x2="876.2" y2="30" stroke="#3f4846" stroke-width="1.5"/>
<line x1="816.8" y1="30" x2="876.2" y2="30" stroke="#3f4846" stroke-width="1.2"/>
<line x1="846.5" y1="30" x2="846.5" y2="28.8" stroke="#3f4846" stroke-width="1.5"/>
<line x1="773.8" y1="28.8" x2="846.5" y2="28.8" stroke="#aab4b2" stroke-width="1.2"/>
<line x1="810" y1="28.8" x2="810" y2="18.8" stroke="#3f4846" stroke-width="1.5"/>
<line x1="654" y1="18.8" x2="810" y2="18.8" stroke="#bcc6c4" stroke-width="1.2"/>
<g stroke-width="1.1" fill="none"><line x1="593.3" y1="75.7" x2="593.3" y2="83.0" stroke="#434c4a"/><line x1="593.3" y1="75.7" x2="611.0" y2="75.7" stroke="#434c4a"/><line x1="593.3" y1="83.0" x2="611.0" y2="83.0" stroke="#434c4a"/><line x1="590.3" y1="68.4" x2="590.3" y2="79.3" stroke="#434c4a"/><line x1="590.3" y1="68.4" x2="611.0" y2="68.4" stroke="#434c4a"/><line x1="590.3" y1="79.3" x2="593.3" y2="79.3" stroke="#434c4a"/><line x1="600.0" y1="90.2" x2="600.0" y2="97.5" stroke="#434c4a"/><line x1="600.0" y1="90.2" x2="611.0" y2="90.2" stroke="#434c4a"/><line x1="600.0" y1="97.5" x2="611.0" y2="97.5" stroke="#434c4a"/><line x1="581.4" y1="73.9" x2="581.4" y2="93.9" stroke="#434c4a"/><line x1="581.4" y1="73.9" x2="590.3" y2="73.9" stroke="#434c4a"/><line x1="581.4" y1="93.9" x2="600.0" y2="93.9" stroke="#434c4a"/><line x1="592.6" y1="104.7" x2="592.6" y2="112.0" stroke="#434c4a"/><line x1="592.6" y1="104.7" x2="611.0" y2="104.7" stroke="#434c4a"/><line x1="592.6" y1="112.0" x2="611.0" y2="112.0" stroke="#434c4a"/><line x1="591.0" y1="108.4" x2="591.0" y2="119.3" stroke="#434c4a"/><line x1="591.0" y1="108.4" x2="592.6" y2="108.4" stroke="#434c4a"/><line x1="591.0" y1="119.3" x2="611.0" y2="119.3" stroke="#434c4a"/><line x1="587.4" y1="126.5" x2="587.4" y2="133.8" stroke="#434c4a"/><line x1="587.4" y1="126.5" x2="611.0" y2="126.5" stroke="#434c4a"/><line x1="587.4" y1="133.8" x2="611.0" y2="133.8" stroke="#434c4a"/><line x1="582.5" y1="113.8" x2="582.5" y2="130.2" stroke="#434c4a"/><line x1="582.5" y1="113.8" x2="591.0" y2="113.8" stroke="#434c4a"/><line x1="582.5" y1="130.2" x2="587.4" y2="130.2" stroke="#434c4a"/><line x1="577.0" y1="83.9" x2="577.0" y2="122.0" stroke="#434c4a"/><line x1="577.0" y1="83.9" x2="581.4" y2="83.9" stroke="#434c4a"/><line x1="577.0" y1="122.0" x2="582.5" y2="122.0" stroke="#434c4a"/><line x1="603.0" y1="148.3" x2="603.0" y2="155.6" stroke="#434c4a"/><line x1="603.0" y1="148.3" x2="611.0" y2="148.3" stroke="#434c4a"/><line x1="603.0" y1="155.6" x2="611.0" y2="155.6" stroke="#434c4a"/><line x1="592.6" y1="152.0" x2="592.6" y2="162.9" stroke="#434c4a"/><line x1="592.6" y1="152.0" x2="603.0" y2="152.0" stroke="#434c4a"/><line x1="592.6" y1="162.9" x2="611.0" y2="162.9" stroke="#434c4a"/><line x1="591.1" y1="141.1" x2="591.1" y2="157.4" stroke="#434c4a"/><line x1="591.1" y1="141.1" x2="611.0" y2="141.1" stroke="#434c4a"/><line x1="591.1" y1="157.4" x2="592.6" y2="157.4" stroke="#434c4a"/><line x1="597.8" y1="177.4" x2="597.8" y2="184.6" stroke="#434c4a"/><line x1="597.8" y1="177.4" x2="611.0" y2="177.4" stroke="#434c4a"/><line x1="597.8" y1="184.6" x2="611.0" y2="184.6" stroke="#434c4a"/><line x1="591.1" y1="170.1" x2="591.1" y2="181.0" stroke="#434c4a"/><line x1="591.1" y1="170.1" x2="611.0" y2="170.1" stroke="#434c4a"/><line x1="591.1" y1="181.0" x2="597.8" y2="181.0" stroke="#434c4a"/><line x1="585.9" y1="149.2" x2="585.9" y2="175.6" stroke="#434c4a"/><line x1="585.9" y1="149.2" x2="591.1" y2="149.2" stroke="#434c4a"/><line x1="585.9" y1="175.6" x2="591.1" y2="175.6" stroke="#434c4a"/><line x1="593.3" y1="191.9" x2="593.3" y2="199.2" stroke="#434c4a"/><line x1="593.3" y1="191.9" x2="611.0" y2="191.9" stroke="#434c4a"/><line x1="593.3" y1="199.2" x2="611.0" y2="199.2" stroke="#434c4a"/><line x1="590.0" y1="206.4" x2="590.0" y2="213.7" stroke="#434c4a"/><line x1="590.0" y1="206.4" x2="611.0" y2="206.4" stroke="#434c4a"/><line x1="590.0" y1="213.7" x2="611.0" y2="213.7" stroke="#434c4a"/><line x1="585.9" y1="195.5" x2="585.9" y2="210.1" stroke="#434c4a"/><line x1="585.9" y1="195.5" x2="593.3" y2="195.5" stroke="#434c4a"/><line x1="585.9" y1="210.1" x2="590.0" y2="210.1" stroke="#434c4a"/><line x1="582.8" y1="202.8" x2="582.8" y2="221.0" stroke="#434c4a"/><line x1="582.8" y1="202.8" x2="585.9" y2="202.8" stroke="#434c4a"/><line x1="582.8" y1="221.0" x2="611.0" y2="221.0" stroke="#434c4a"/><line x1="578.3" y1="162.4" x2="578.3" y2="211.9" stroke="#434c4a"/><line x1="578.3" y1="162.4" x2="585.9" y2="162.4" stroke="#434c4a"/><line x1="578.3" y1="211.9" x2="582.8" y2="211.9" stroke="#434c4a"/><line x1="595.6" y1="228.2" x2="595.6" y2="235.5" stroke="#434c4a"/><line x1="595.6" y1="228.2" x2="611.0" y2="228.2" stroke="#434c4a"/><line x1="595.6" y1="235.5" x2="611.0" y2="235.5" stroke="#434c4a"/><line x1="596.7" y1="242.7" x2="596.7" y2="250.0" stroke="#434c4a"/><line x1="596.7" y1="242.7" x2="611.0" y2="242.7" stroke="#434c4a"/><line x1="596.7" y1="250.0" x2="611.0" y2="250.0" stroke="#434c4a"/><line x1="588.9" y1="246.4" x2="588.9" y2="257.3" stroke="#434c4a"/><line x1="588.9" y1="246.4" x2="596.7" y2="246.4" stroke="#434c4a"/><line x1="588.9" y1="257.3" x2="611.0" y2="257.3" stroke="#434c4a"/><line x1="586.7" y1="231.8" x2="586.7" y2="251.8" stroke="#434c4a"/><line x1="586.7" y1="231.8" x2="595.6" y2="231.8" stroke="#434c4a"/><line x1="586.7" y1="251.8" x2="588.9" y2="251.8" stroke="#434c4a"/><line x1="594.1" y1="271.8" x2="594.1" y2="279.1" stroke="#434c4a"/><line x1="594.1" y1="271.8" x2="611.0" y2="271.8" stroke="#434c4a"/><line x1="594.1" y1="279.1" x2="611.0" y2="279.1" stroke="#434c4a"/><line x1="589.4" y1="264.5" x2="589.4" y2="275.4" stroke="#434c4a"/><line x1="589.4" y1="264.5" x2="611.0" y2="264.5" stroke="#434c4a"/><line x1="589.4" y1="275.4" x2="594.1" y2="275.4" stroke="#434c4a"/><line x1="600.0" y1="286.3" x2="600.0" y2="293.6" stroke="#434c4a"/><line x1="600.0" y1="286.3" x2="611.0" y2="286.3" stroke="#434c4a"/><line x1="600.0" y1="293.6" x2="611.0" y2="293.6" stroke="#434c4a"/><line x1="590.3" y1="290.0" x2="590.3" y2="300.8" stroke="#434c4a"/><line x1="590.3" y1="290.0" x2="600.0" y2="290.0" stroke="#434c4a"/><line x1="590.3" y1="300.8" x2="611.0" y2="300.8" stroke="#434c4a"/><line x1="588.9" y1="295.4" x2="588.9" y2="308.1" stroke="#434c4a"/><line x1="588.9" y1="295.4" x2="590.3" y2="295.4" stroke="#434c4a"/><line x1="588.9" y1="308.1" x2="611.0" y2="308.1" stroke="#434c4a"/><line x1="581.7" y1="270.0" x2="581.7" y2="301.8" stroke="#434c4a"/><line x1="581.7" y1="270.0" x2="589.4" y2="270.0" stroke="#434c4a"/><line x1="581.7" y1="301.8" x2="588.9" y2="301.8" stroke="#434c4a"/><line x1="578.3" y1="241.8" x2="578.3" y2="285.9" stroke="#434c4a"/><line x1="578.3" y1="241.8" x2="586.7" y2="241.8" stroke="#434c4a"/><line x1="578.3" y1="285.9" x2="581.7" y2="285.9" stroke="#434c4a"/><line x1="597.8" y1="315.4" x2="597.8" y2="322.6" stroke="#434c4a"/><line x1="597.8" y1="315.4" x2="611.0" y2="315.4" stroke="#434c4a"/><line x1="597.8" y1="322.6" x2="611.0" y2="322.6" stroke="#434c4a"/><line x1="591.1" y1="329.9" x2="591.1" y2="337.2" stroke="#434c4a"/><line x1="591.1" y1="329.9" x2="611.0" y2="329.9" stroke="#434c4a"/><line x1="591.1" y1="337.2" x2="611.0" y2="337.2" stroke="#434c4a"/><line x1="587.4" y1="319.0" x2="587.4" y2="333.5" stroke="#434c4a"/><line x1="587.4" y1="319.0" x2="597.8" y2="319.0" stroke="#434c4a"/><line x1="587.4" y1="333.5" x2="591.1" y2="333.5" stroke="#434c4a"/><line x1="577.0" y1="263.9" x2="577.0" y2="326.3" stroke="#434c4a"/><line x1="577.0" y1="263.9" x2="578.3" y2="263.9" stroke="#434c4a"/><line x1="577.0" y1="326.3" x2="587.4" y2="326.3" stroke="#434c4a"/><line x1="571.4" y1="187.1" x2="571.4" y2="295.1" stroke="#434c4a"/><line x1="571.4" y1="187.1" x2="578.3" y2="187.1" stroke="#434c4a"/><line x1="571.4" y1="295.1" x2="577.0" y2="295.1" stroke="#434c4a"/><line x1="598.9" y1="344.4" x2="598.9" y2="351.7" stroke="#434c4a"/><line x1="598.9" y1="344.4" x2="611.0" y2="344.4" stroke="#434c4a"/><line x1="598.9" y1="351.7" x2="611.0" y2="351.7" stroke="#434c4a"/><line x1="591.4" y1="348.1" x2="591.4" y2="359.0" stroke="#434c4a"/><line x1="591.4" y1="348.1" x2="598.9" y2="348.1" stroke="#434c4a"/><line x1="591.4" y1="359.0" x2="611.0" y2="359.0" stroke="#434c4a"/><line x1="593.9" y1="366.2" x2="593.9" y2="373.5" stroke="#434c4a"/><line x1="593.9" y1="366.2" x2="611.0" y2="366.2" stroke="#434c4a"/><line x1="593.9" y1="373.5" x2="611.0" y2="373.5" stroke="#434c4a"/><line x1="595.0" y1="380.7" x2="595.0" y2="388.0" stroke="#434c4a"/><line x1="595.0" y1="380.7" x2="611.0" y2="380.7" stroke="#434c4a"/><line x1="595.0" y1="388.0" x2="611.0" y2="388.0" stroke="#434c4a"/><line x1="588.5" y1="369.8" x2="588.5" y2="384.4" stroke="#434c4a"/><line x1="588.5" y1="369.8" x2="593.9" y2="369.8" stroke="#434c4a"/><line x1="588.5" y1="384.4" x2="595.0" y2="384.4" stroke="#434c4a"/><line x1="581.4" y1="353.5" x2="581.4" y2="377.1" stroke="#434c4a"/><line x1="581.4" y1="353.5" x2="591.4" y2="353.5" stroke="#434c4a"/><line x1="581.4" y1="377.1" x2="588.5" y2="377.1" stroke="#434c4a"/><line x1="595.6" y1="395.3" x2="595.6" y2="402.5" stroke="#434c4a"/><line x1="595.6" y1="395.3" x2="611.0" y2="395.3" stroke="#434c4a"/><line x1="595.6" y1="402.5" x2="611.0" y2="402.5" stroke="#434c4a"/><line x1="581.1" y1="365.3" x2="581.1" y2="398.9" stroke="#434c4a"/><line x1="581.1" y1="365.3" x2="581.4" y2="365.3" stroke="#434c4a"/><line x1="581.1" y1="398.9" x2="595.6" y2="398.9" stroke="#434c4a"/><line x1="600.0" y1="409.8" x2="600.0" y2="417.1" stroke="#434c4a"/><line x1="600.0" y1="409.8" x2="611.0" y2="409.8" stroke="#434c4a"/><line x1="600.0" y1="417.1" x2="611.0" y2="417.1" stroke="#434c4a"/><line x1="597.8" y1="424.3" x2="597.8" y2="431.6" stroke="#434c4a"/><line x1="597.8" y1="424.3" x2="611.0" y2="424.3" stroke="#434c4a"/><line x1="597.8" y1="431.6" x2="611.0" y2="431.6" stroke="#434c4a"/><line x1="591.1" y1="413.4" x2="591.1" y2="428.0" stroke="#434c4a"/><line x1="591.1" y1="413.4" x2="600.0" y2="413.4" stroke="#434c4a"/><line x1="591.1" y1="428.0" x2="597.8" y2="428.0" stroke="#434c4a"/><line x1="595.0" y1="438.8" x2="595.0" y2="446.1" stroke="#434c4a"/><line x1="595.0" y1="438.8" x2="611.0" y2="438.8" stroke="#434c4a"/><line x1="595.0" y1="446.1" x2="611.0" y2="446.1" stroke="#434c4a"/><line x1="594.1" y1="442.5" x2="594.1" y2="453.4" stroke="#434c4a"/><line x1="594.1" y1="442.5" x2="595.0" y2="442.5" stroke="#434c4a"/><line x1="594.1" y1="453.4" x2="611.0" y2="453.4" stroke="#434c4a"/><line x1="587.2" y1="420.7" x2="587.2" y2="447.9" stroke="#434c4a"/><line x1="587.2" y1="420.7" x2="591.1" y2="420.7" stroke="#434c4a"/><line x1="587.2" y1="447.9" x2="594.1" y2="447.9" stroke="#434c4a"/><line x1="573.3" y1="382.1" x2="573.3" y2="434.3" stroke="#434c4a"/><line x1="573.3" y1="382.1" x2="581.1" y2="382.1" stroke="#434c4a"/><line x1="573.3" y1="434.3" x2="587.2" y2="434.3" stroke="#434c4a"/><line x1="570.6" y1="241.1" x2="570.6" y2="408.2" stroke="#c9d1cf"/><line x1="570.6" y1="241.1" x2="571.4" y2="241.1" stroke="#c9d1cf"/><line x1="570.6" y1="408.2" x2="573.3" y2="408.2" stroke="#c9d1cf"/><line x1="562.2" y1="102.9" x2="562.2" y2="324.7" stroke="#8d9896"/><line x1="562.2" y1="102.9" x2="577.0" y2="102.9" stroke="#8d9896"/><line x1="562.2" y1="324.7" x2="570.6" y2="324.7" stroke="#8d9896"/></g>
<defs><linearGradient id="cb" x1="0" x2="1" y1="0" y2="0"><stop offset="0" stop-color="#1c3cf6"/><stop offset="0.25" stop-color="#8a84f3"/><stop offset="0.5" stop-color="#ffffff"/><stop offset="0.75" stop-color="#f89090"/><stop offset="1" stop-color="#f51515"/></linearGradient></defs>
<rect x="666.5" y="462.4" width="185" height="10" fill="url(#cb)"/>
<line x1="668.5" y1="462.4" x2="668.5" y2="464.5" stroke="#ffffff" stroke-width="0.8"/>
<line x1="668.5" y1="470.3" x2="668.5" y2="472.4" stroke="#ffffff" stroke-width="0.8"/>
<line x1="713.8" y1="462.4" x2="713.8" y2="464.5" stroke="#ffffff" stroke-width="0.8"/>
<line x1="713.8" y1="470.3" x2="713.8" y2="472.4" stroke="#ffffff" stroke-width="0.8"/>
<line x1="759.0" y1="462.4" x2="759.0" y2="464.5" stroke="#ffffff" stroke-width="0.8"/>
<line x1="759.0" y1="470.3" x2="759.0" y2="472.4" stroke="#ffffff" stroke-width="0.8"/>
<line x1="804.2" y1="462.4" x2="804.2" y2="464.5" stroke="#ffffff" stroke-width="0.8"/>
<line x1="804.2" y1="470.3" x2="804.2" y2="472.4" stroke="#ffffff" stroke-width="0.8"/>
<line x1="849.5" y1="462.4" x2="849.5" y2="464.5" stroke="#ffffff" stroke-width="0.8"/>
<line x1="849.5" y1="470.3" x2="849.5" y2="472.4" stroke="#ffffff" stroke-width="0.8"/>
<text x="668.6" y="483" font-family="'DejaVu Serif', serif" font-size="9" text-anchor="middle" fill="#111" stroke="#111" stroke-width="0.3">-1</text>
<text x="714.2" y="483" font-family="'DejaVu Serif', serif" font-size="9" text-anchor="middle" fill="#111" stroke="#111" stroke-width="0.3">-0.5</text>
<text x="762" y="483" font-family="'DejaVu Serif', serif" font-size="9" text-anchor="middle" fill="#111" stroke="#111" stroke-width="0.3">0</text>
<text x="806" y="483" font-family="'DejaVu Serif', serif" font-size="9" text-anchor="middle" fill="#111" stroke="#111" stroke-width="0.3">0.5</text>
<text x="847" y="483" font-family="'DejaVu Serif', serif" font-size="9" text-anchor="middle" fill="#111" stroke="#111" stroke-width="0.3">1</text>
<text transform="translate(13,497.2) scale(0.9,1)" font-family="'Liberation Serif', serif" font-weight="bold" font-size="26.5">C</text>
<line x1="66" y1="491" x2="66" y2="707.7" stroke="#7d8a88" stroke-width="1.3"/>
<line x1="62" y1="704.1" x2="66" y2="704.1" stroke="#7d8a88" stroke-width="1.2"/>
<text x="55.5" y="707.6" font-family="'DejaVu Serif', serif" font-size="9.5" font-weight="bold" text-anchor="middle" fill="#111">0</text>
<line x1="62" y1="642.1" x2="66" y2="642.1" stroke="#7d8a88" stroke-width="1.2"/>
<text x="55.5" y="645.6" font-family="'DejaVu Serif', serif" font-size="9.5" font-weight="bold" text-anchor="middle" fill="#111">2</text>
<line x1="62" y1="580.2" x2="66" y2="580.2" stroke="#7d8a88" stroke-width="1.2"/>
<text x="55.5" y="583.7" font-family="'DejaVu Serif', serif" font-size="9.5" font-weight="bold" text-anchor="middle" fill="#111">4</text>
<line x1="62" y1="518.2" x2="66" y2="518.2" stroke="#7d8a88" stroke-width="1.2"/>
<text x="55.5" y="521.7" font-family="'DejaVu Serif', serif" font-size="9.5" font-weight="bold" text-anchor="middle" fill="#111">6</text>
<text transform="translate(32.5,591.6) rotate(-90)" font-family="'DejaVu Serif', serif" font-weight="bold" font-size="10" text-anchor="middle" textLength="68" lengthAdjust="spacingAndGlyphs" fill="#111">Gene number</text>
<line x1="66" y1="704" x2="975" y2="704" stroke="#7d8a88" stroke-width="1.2"/>
<rect x="74.60" y="518.22" width="14" height="185.88" fill="#4f0cbe"/>
<text x="81.80" y="516.42" font-family="'DejaVu Serif', serif" font-weight="bold" font-size="9.5" text-anchor="middle" fill="#111">6</text>
<line x1="96.2" y1="704" x2="96.2" y2="706" stroke="#55605e" stroke-width="1"/>
<rect x="103.88" y="549.20" width="14" height="154.90" fill="#4f0cbe"/>
<text x="111.08" y="547.40" font-family="'DejaVu Serif', serif" font-weight="bold" font-size="9.5" text-anchor="middle" fill="#111">5</text>
<line x1="125.5" y1="704" x2="125.5" y2="706" stroke="#55605e" stroke-width="1"/>
<rect x="133.16" y="549.20" width="14" height="154.90" fill="#4f0cbe"/>
<text x="140.36" y="547.40" font-family="'DejaVu Serif', serif" font-weight="bold" font-size="9.5" text-anchor="middle" fill="#111">5</text>
<line x1="154.8" y1="704" x2="154.8" y2="706" stroke="#55605e" stroke-width="1"/>
<rect x="162.44" y="580.18" width="14" height="123.92" fill="#4f0cbe"/>
<text x="169.64" y="578.38" font-family="'DejaVu Serif', serif" font-weight="bold" font-size="9.5" text-anchor="middle" fill="#111">4</text>
<line x1="184.1" y1="704" x2="184.1" y2="706" stroke="#55605e" stroke-width="1"/>
<rect x="191.72" y="580.18" width="14" height="123.92" fill="#4f0cbe"/>
<text x="198.92" y="578.38" font-family="'DejaVu Serif', serif" font-weight="bold" font-size="9.5" text-anchor="middle" fill="#111">4</text>
<line x1="213.4" y1="704" x2="213.4" y2="706" stroke="#55605e" stroke-width="1"/>
<rect x="221.00" y="580.18" width="14" height="123.92" fill="#4f0cbe"/>
<text x="228.20" y="578.38" font-family="'DejaVu Serif', serif" font-weight="bold" font-size="9.5" text-anchor="middle" fill="#111">4</text>
<line x1="242.6" y1="704" x2="242.6" y2="706" stroke="#55605e" stroke-width="1"/>
<rect x="250.28" y="580.18" width="14" height="123.92" fill="#4f0cbe"/>
<text x="257.48" y="578.38" font-family="'DejaVu Serif', serif" font-weight="bold" font-size="9.5" text-anchor="middle" fill="#111">4</text>
<line x1="271.9" y1="704" x2="271.9" y2="706" stroke="#55605e" stroke-width="1"/>
<rect x="279.56" y="611.16" width="14" height="92.94" fill="#4f0cbe"/>
<text x="286.76" y="609.36" font-family="'DejaVu Serif', serif" font-weight="bold" font-size="9.5" text-anchor="middle" fill="#111">3</text>
<line x1="301.2" y1="704" x2="301.2" y2="706" stroke="#55605e" stroke-width="1"/>
<rect x="308.84" y="611.16" width="14" height="92.94" fill="#4f0cbe"/>
<text x="316.04" y="609.36" font-family="'DejaVu Serif', serif" font-weight="bold" font-size="9.5" text-anchor="middle" fill="#111">3</text>
<line x1="330.5" y1="704" x2="330.5" y2="706" stroke="#55605e" stroke-width="1"/>
<rect x="338.12" y="611.16" width="14" height="92.94" fill="#4f0cbe"/>
<text x="345.32" y="609.36" font-family="'DejaVu Serif', serif" font-weight="bold" font-size="9.5" text-anchor="middle" fill="#111">3</text>
<line x1="359.8" y1="704" x2="359.8" y2="706" stroke="#55605e" stroke-width="1"/>
<rect x="367.40" y="642.14" width="14" height="61.96" fill="#4f0cbe"/>
<text x="374.60" y="640.34" font-family="'DejaVu Serif', serif" font-weight="bold" font-size="9.5" text-anchor="middle" fill="#111">2</text>
<line x1="389.0" y1="704" x2="389.0" y2="706" stroke="#55605e" stroke-width="1"/>
<rect x="396.68" y="642.14" width="14" height="61.96" fill="#4f0cbe"/>
<text x="403.88" y="640.34" font-family="'DejaVu Serif', serif" font-weight="bold" font-size="9.5" text-anchor="middle" fill="#111">2</text>
<line x1="418.3" y1="704" x2="418.3" y2="706" stroke="#55605e" stroke-width="1"/>
<rect x="425.96" y="642.14" width="14" height="61.96" fill="#4f0cbe"/>
<text x="433.16" y="640.34" font-family="'DejaVu Serif', serif" font-weight="bold" font-size="9.5" text-anchor="middle" fill="#111">2</text>
<line x1="447.6" y1="704" x2="447.6" y2="706" stroke="#55605e" stroke-width="1"/>
<rect x="455.24" y="673.12" width="14" height="30.98" fill="#4f0cbe"/>
<text x="462.44" y="671.32" font-family="'DejaVu Serif', serif" font-weight="bold" font-size="9.5" text-anchor="middle" fill="#111">1</text>
<line x1="476.9" y1="704" x2="476.9" y2="706" stroke="#55605e" stroke-width="1"/>
<rect x="484.52" y="673.12" width="14" height="30.98" fill="#4f0cbe"/>
<text x="491.72" y="671.32" font-family="'DejaVu Serif', serif" font-weight="bold" font-size="9.5" text-anchor="middle" fill="#111">1</text>
<line x1="506.2" y1="704" x2="506.2" y2="706" stroke="#55605e" stroke-width="1"/>
<rect x="513.80" y="673.12" width="14" height="30.98" fill="#4f0cbe"/>
<text x="521.00" y="671.32" font-family="'DejaVu Serif', serif" font-weight="bold" font-size="9.5" text-anchor="middle" fill="#111">1</text>
<line x1="535.4" y1="704" x2="535.4" y2="706" stroke="#55605e" stroke-width="1"/>
<rect x="543.08" y="673.12" width="14" height="30.98" fill="#4f0cbe"/>
<text x="550.28" y="671.32" font-family="'DejaVu Serif', serif" font-weight="bold" font-size="9.5" text-anchor="middle" fill="#111">1</text>
<line x1="564.7" y1="704" x2="564.7" y2="706" stroke="#55605e" stroke-width="1"/>
<rect x="572.36" y="518.22" width="14" height="185.88" fill="#1e8a3c"/>
<text x="579.56" y="516.42" font-family="'DejaVu Serif', serif" font-weight="bold" font-size="9.5" text-anchor="middle" fill="#111">6</text>
<line x1="594.0" y1="704" x2="594.0" y2="706" stroke="#55605e" stroke-width="1"/>
<rect x="601.64" y="549.20" width="14" height="154.90" fill="#1e8a3c"/>
<text x="608.84" y="547.40" font-family="'DejaVu Serif', serif" font-weight="bold" font-size="9.5" text-anchor="middle" fill="#111">5</text>
<line x1="623.3" y1="704" x2="623.3" y2="706" stroke="#55605e" stroke-width="1"/>
<rect x="630.92" y="580.18" width="14" height="123.92" fill="#1e8a3c"/>
<text x="638.12" y="578.38" font-family="'DejaVu Serif', serif" font-weight="bold" font-size="9.5" text-anchor="middle" fill="#111">4</text>
<line x1="652.6" y1="704" x2="652.6" y2="706" stroke="#55605e" stroke-width="1"/>
<rect x="660.20" y="580.18" width="14" height="123.92" fill="#1e8a3c"/>
<text x="667.40" y="578.38" font-family="'DejaVu Serif', serif" font-weight="bold" font-size="9.5" text-anchor="middle" fill="#111">4</text>
<line x1="681.8" y1="704" x2="681.8" y2="706" stroke="#55605e" stroke-width="1"/>
<rect x="689.48" y="580.18" width="14" height="123.92" fill="#1e8a3c"/>
<text x="696.68" y="578.38" font-family="'DejaVu Serif', serif" font-weight="bold" font-size="9.5" text-anchor="middle" fill="#111">4</text>
<line x1="711.1" y1="704" x2="711.1" y2="706" stroke="#55605e" stroke-width="1"/>
<rect x="718.76" y="580.18" width="14" height="123.92" fill="#1e8a3c"/>
<text x="725.96" y="578.38" font-family="'DejaVu Serif', serif" font-weight="bold" font-size="9.5" text-anchor="middle" fill="#111">4</text>
<line x1="740.4" y1="704" x2="740.4" y2="706" stroke="#55605e" stroke-width="1"/>
<rect x="748.04" y="580.18" width="14" height="123.92" fill="#1e8a3c"/>
<text x="755.24" y="578.38" font-family="'DejaVu Serif', serif" font-weight="bold" font-size="9.5" text-anchor="middle" fill="#111">4</text>
<line x1="769.7" y1="704" x2="769.7" y2="706" stroke="#55605e" stroke-width="1"/>
<rect x="777.32" y="642.14" width="14" height="61.96" fill="#1e8a3c"/>
<text x="784.52" y="640.34" font-family="'DejaVu Serif', serif" font-weight="bold" font-size="9.5" text-anchor="middle" fill="#111">2</text>
<line x1="799.0" y1="704" x2="799.0" y2="706" stroke="#55605e" stroke-width="1"/>
<rect x="806.60" y="673.12" width="14" height="30.98" fill="#1e8a3c"/>
<text x="813.80" y="671.32" font-family="'DejaVu Serif', serif" font-weight="bold" font-size="9.5" text-anchor="middle" fill="#111">1</text>
<line x1="828.2" y1="704" x2="828.2" y2="706" stroke="#55605e" stroke-width="1"/>
<rect x="835.88" y="673.12" width="14" height="30.98" fill="#1e8a3c"/>
<text x="843.08" y="671.32" font-family="'DejaVu Serif', serif" font-weight="bold" font-size="9.5" text-anchor="middle" fill="#111">1</text>
<line x1="857.5" y1="704" x2="857.5" y2="706" stroke="#55605e" stroke-width="1"/>
<rect x="865.16" y="580.18" width="14" height="123.92" fill="#e6b21f"/>
<text x="872.36" y="578.38" font-family="'DejaVu Serif', serif" font-weight="bold" font-size="9.5" text-anchor="middle" fill="#111">4</text>
<line x1="886.8" y1="704" x2="886.8" y2="706" stroke="#55605e" stroke-width="1"/>
<rect x="894.44" y="580.18" width="14" height="123.92" fill="#e6b21f"/>
<text x="901.64" y="578.38" font-family="'DejaVu Serif', serif" font-weight="bold" font-size="9.5" text-anchor="middle" fill="#111">4</text>
<line x1="916.1" y1="704" x2="916.1" y2="706" stroke="#55605e" stroke-width="1"/>
<rect x="923.72" y="673.12" width="14" height="30.98" fill="#e6b21f"/>
<text x="930.92" y="671.32" font-family="'DejaVu Serif', serif" font-weight="bold" font-size="9.5" text-anchor="middle" fill="#111">1</text>
<line x1="945.4" y1="704" x2="945.4" y2="706" stroke="#55605e" stroke-width="1"/>
<rect x="953.00" y="673.12" width="14" height="30.98" fill="#e6b21f"/>
<text x="960.20" y="671.32" font-family="'DejaVu Serif', serif" font-weight="bold" font-size="9.5" text-anchor="middle" fill="#111">1</text>
<text transform="translate(48.5,802) rotate(-69.23)" font-family="'DejaVu Sans Condensed', 'DejaVu Sans', sans-serif" font-size="10.3" textLength="97.0" lengthAdjust="spacingAndGlyphs" fill="#111" stroke="#111" stroke-width="0.3">Response to stimulus</text>
<text transform="translate(95.2,780.8) rotate(-74.95)" font-family="'DejaVu Sans Condensed', 'DejaVu Sans', sans-serif" font-size="10.3" textLength="73.9" lengthAdjust="spacingAndGlyphs" fill="#111" stroke="#111" stroke-width="0.3">Cellular process</text>
<text transform="translate(123.9,788.8) rotate(-75.75)" font-family="'DejaVu Sans Condensed', 'DejaVu Sans', sans-serif" font-size="10.3" textLength="82.9" lengthAdjust="spacingAndGlyphs" fill="#111" stroke="#111" stroke-width="0.3">Metabolic process</text>
<text transform="translate(141.4,818) rotate(-74.41)" font-family="'DejaVu Sans Condensed', 'DejaVu Sans', sans-serif" font-size="10.3" textLength="112.7" lengthAdjust="spacingAndGlyphs" fill="#111" stroke="#111" stroke-width="0.3">Immune system process</text>
<text transform="translate(173,792.9) rotate(-75.20)" font-family="'DejaVu Sans Condensed', 'DejaVu Sans', sans-serif" font-size="10.3" textLength="87.3" lengthAdjust="spacingAndGlyphs" fill="#111" stroke="#111" stroke-width="0.3">Positive regulation</text>
<text transform="translate(183,803.9) rotate(-74.97)" font-family="'DejaVu Sans Condensed', 'DejaVu Sans', sans-serif" font-size="10.3" textLength="94.8" lengthAdjust="spacingAndGlyphs" fill="#111" stroke="#111" stroke-width="0.3">of biological process</text>
<text transform="translate(198.7,856.8) rotate(-78.45)" font-family="'DejaVu Sans Condensed', 'DejaVu Sans', sans-serif" font-size="10.3" textLength="151.4" lengthAdjust="spacingAndGlyphs" fill="#111" stroke="#111" stroke-width="0.3">Regulation of biological process</text>
<text transform="translate(238.4,803.9) rotate(-74.81)" font-family="'DejaVu Sans Condensed', 'DejaVu Sans', sans-serif" font-size="10.3" textLength="98.9" lengthAdjust="spacingAndGlyphs" fill="#111" stroke="#111" stroke-width="0.3">biological regulation</text>
<text transform="translate(258,861.5) rotate(-78.62)" font-family="'DejaVu Sans Condensed', 'DejaVu Sans', sans-serif" font-size="10.3" textLength="156.1" lengthAdjust="spacingAndGlyphs" fill="#111" stroke="#111" stroke-width="0.3">Multicellular organismal process</text>
<text transform="translate(304.9,763.8) rotate(-78.75)" font-family="'DejaVu Sans Condensed', 'DejaVu Sans', sans-serif" font-size="10.3" textLength="56.4" lengthAdjust="spacingAndGlyphs" fill="#111" stroke="#111" stroke-width="0.3">Localization</text>
<text transform="translate(325,817.1) rotate(-78.50)" font-family="'DejaVu Sans Condensed', 'DejaVu Sans', sans-serif" font-size="10.3" textLength="110.8" lengthAdjust="spacingAndGlyphs" fill="#111" stroke="#111" stroke-width="0.3">Multi-organism process</text>
<text transform="translate(369.2,755.2) rotate(-77.17)" font-family="'DejaVu Sans Condensed', 'DejaVu Sans', sans-serif" font-size="10.3" textLength="45.0" lengthAdjust="spacingAndGlyphs" fill="#111" stroke="#111" stroke-width="0.3">Signaling</text>
<text transform="translate(383.5,817.1) rotate(-78.50)" font-family="'DejaVu Sans Condensed', 'DejaVu Sans', sans-serif" font-size="10.3" textLength="110.8" lengthAdjust="spacingAndGlyphs" fill="#111" stroke="#111" stroke-width="0.3">Developmental process</text>
<text transform="translate(416.6,801.4) rotate(-81.67)" font-family="'DejaVu Sans Condensed', 'DejaVu Sans', sans-serif" font-size="10.3" textLength="93.9" lengthAdjust="spacingAndGlyphs" fill="#111" stroke="#111" stroke-width="0.3">Cellular component</text>
<text transform="translate(424.6,826.9) rotate(-81.26)" font-family="'DejaVu Sans Condensed', 'DejaVu Sans', sans-serif" font-size="10.3" textLength="117.9" lengthAdjust="spacingAndGlyphs" fill="#111" stroke="#111" stroke-width="0.3">organization biogenesiss</text>
<text transform="translate(452.9,770.3) rotate(-81.35)" font-family="'DejaVu Sans Condensed', 'DejaVu Sans', sans-serif" font-size="10.3" textLength="62.5" lengthAdjust="spacingAndGlyphs" fill="#111" stroke="#111" stroke-width="0.3">reproduction</text>
<text transform="translate(479,786.5) rotate(-78.83)" font-family="'DejaVu Sans Condensed', 'DejaVu Sans', sans-serif" font-size="10.3" textLength="79.5" lengthAdjust="spacingAndGlyphs" fill="#111" stroke="#111" stroke-width="0.3">Cell proliferation</text>
<text transform="translate(499.7,798.6) rotate(-75.08)" font-family="'DejaVu Sans Condensed', 'DejaVu Sans', sans-serif" font-size="10.3" textLength="93.2" lengthAdjust="spacingAndGlyphs" fill="#111" stroke="#111" stroke-width="0.3">Reproductive prcess</text>
<text transform="translate(541.3,764.6) rotate(-80.99)" font-family="'DejaVu Sans Condensed', 'DejaVu Sans', sans-serif" font-size="10.3" textLength="56.8" lengthAdjust="spacingAndGlyphs" fill="#111" stroke="#111" stroke-width="0.3">Locomotion</text>
<text transform="translate(560.4,798.6) rotate(-77.91)" font-family="'DejaVu Sans Condensed', 'DejaVu Sans', sans-serif" font-size="10.3" textLength="92.1" lengthAdjust="spacingAndGlyphs" fill="#111" stroke="#111" stroke-width="0.3">Extracellular region</text>
<text transform="translate(581.2,820.1) rotate(-74.24)" font-family="'DejaVu Sans Condensed', 'DejaVu Sans', sans-serif" font-size="10.3" textLength="116.0" lengthAdjust="spacingAndGlyphs" fill="#111" stroke="#111" stroke-width="0.3">Extracellular region part</text>
<text transform="translate(632.9,753.3) rotate(-76.20)" font-family="'DejaVu Sans Condensed', 'DejaVu Sans', sans-serif" font-size="10.3" textLength="46.1" lengthAdjust="spacingAndGlyphs" fill="#111" stroke="#111" stroke-width="0.3">Organelle</text>
<text transform="translate(661.3,757.6) rotate(-78.49)" font-family="'DejaVu Sans Condensed', 'DejaVu Sans', sans-serif" font-size="10.3" textLength="50.1" lengthAdjust="spacingAndGlyphs" fill="#111" stroke="#111" stroke-width="0.3">Membrane</text>
<text transform="translate(700.8,724.2) rotate(-78.48)" font-family="'DejaVu Sans Condensed', 'DejaVu Sans', sans-serif" font-size="10.3" textLength="16.0" lengthAdjust="spacingAndGlyphs" fill="#111" stroke="#111" stroke-width="0.3">Cell</text>
<text transform="translate(704.4,837) rotate(-78.13)" font-family="'DejaVu Sans Condensed', 'DejaVu Sans', sans-serif" font-size="10.3" textLength="131.3" lengthAdjust="spacingAndGlyphs" fill="#111" stroke="#111" stroke-width="0.3">Protein-containing complex</text>
<text transform="translate(756.5,747.2) rotate(-81.04)" font-family="'DejaVu Sans Condensed', 'DejaVu Sans', sans-serif" font-size="10.3" textLength="39.2" lengthAdjust="spacingAndGlyphs" fill="#111" stroke="#111" stroke-width="0.3">Cell part</text>
<text transform="translate(771.6,778.4) rotate(-75.25)" font-family="'DejaVu Sans Condensed', 'DejaVu Sans', sans-serif" font-size="10.3" textLength="72.3" lengthAdjust="spacingAndGlyphs" fill="#111" stroke="#111" stroke-width="0.3">Membrane part</text>
<text transform="translate(786.7,821.8) rotate(-74.42)" font-family="'DejaVu Sans Condensed', 'DejaVu Sans', sans-serif" font-size="10.3" textLength="117.6" lengthAdjust="spacingAndGlyphs" fill="#111" stroke="#111" stroke-width="0.3">Supramolecular complex</text>
<text transform="translate(833,772.7) rotate(-75.42)" font-family="'DejaVu Sans Condensed', 'DejaVu Sans', sans-serif" font-size="10.3" textLength="66.3" lengthAdjust="spacingAndGlyphs" fill="#111" stroke="#111" stroke-width="0.3">Organelle part</text>
<text transform="translate(859.5,784.1) rotate(-78.13)" font-family="'DejaVu Sans Condensed', 'DejaVu Sans', sans-serif" font-size="10.3" textLength="76.3" lengthAdjust="spacingAndGlyphs" fill="#111" stroke="#111" stroke-width="0.3">Catalytic activity</text>
<text transform="translate(899.2,744.4) rotate(-75.93)" font-family="'DejaVu Sans Condensed', 'DejaVu Sans', sans-serif" font-size="10.3" textLength="37.0" lengthAdjust="spacingAndGlyphs" fill="#111" stroke="#111" stroke-width="0.3">Binding</text>
<text transform="translate(912.4,801.1) rotate(-77.81)" font-family="'DejaVu Sans Condensed', 'DejaVu Sans', sans-serif" font-size="10.3" textLength="91.9" lengthAdjust="spacingAndGlyphs" fill="#111" stroke="#111" stroke-width="0.3">Transporter activity</text>
<text transform="translate(932.4,844.5) rotate(-78.37)" font-family="'DejaVu Sans Condensed', 'DejaVu Sans', sans-serif" font-size="10.3" textLength="137.9" lengthAdjust="spacingAndGlyphs" fill="#111" stroke="#111" stroke-width="0.3">Molecular function regulator</text>
<polyline points="46.8,808.3 23.9,874.6 492.4,874.6 532,763.4" fill="none" stroke="#6a54a6" stroke-width="1.3"/>
<polyline points="547.6,799.4 521,874.6 785.5,874.6 820,776.5" fill="none" stroke="#2e9a4c" stroke-width="1.3"/>
<polyline points="845.5,786 814,874.6 902.5,874.6 915.4,836.5" fill="none" stroke="#d4c02e" stroke-width="1.3"/>
<text x="253" y="885.8" font-family="'Liberation Serif', serif" font-weight="bold" font-size="10.5" text-anchor="middle" fill="#111">BP</text>
<text x="653.5" y="885.8" font-family="'Liberation Serif', serif" font-weight="bold" font-size="10.5" text-anchor="middle" fill="#111">CC</text>
<text x="857" y="885.8" font-family="'Liberation Serif', serif" font-weight="bold" font-size="10.5" text-anchor="middle" fill="#111">MF</text>
</svg>
</body></html>
